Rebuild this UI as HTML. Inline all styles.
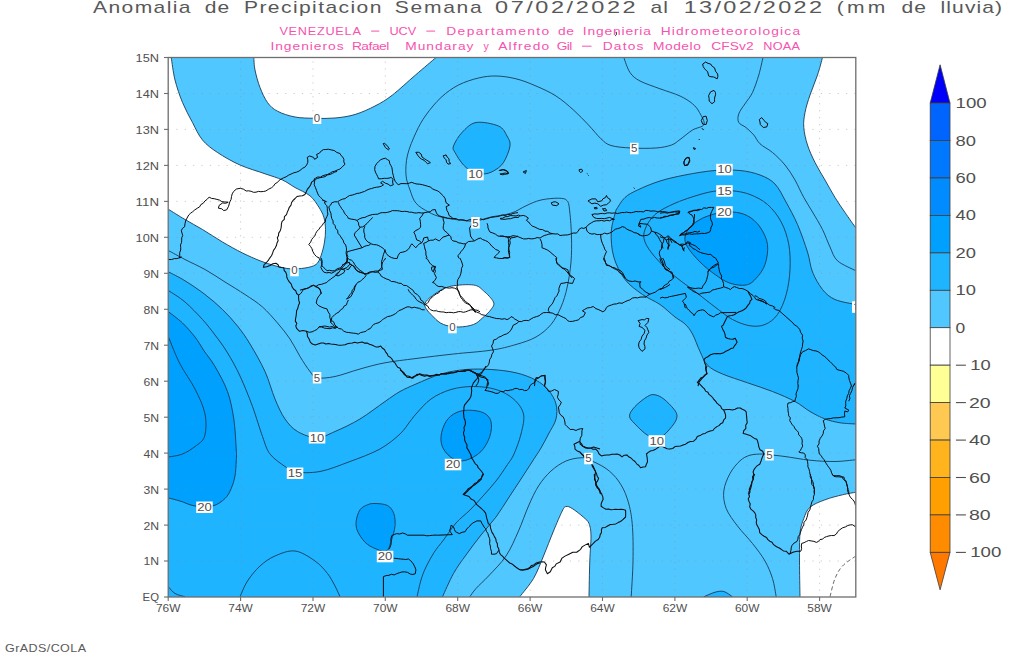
<!DOCTYPE html>
<html><head><meta charset="utf-8"><title>Anomalia de Precipitacion</title>
<style>
html,body{margin:0;padding:0;background:#fff;}
body{width:1024px;height:655px;overflow:hidden;font-family:"Liberation Sans",sans-serif;}
svg{display:block;}
text{font-family:"Liberation Sans",sans-serif;}
</style></head><body>
<svg width="1024" height="655" viewBox="0 0 1024 655">
<rect width="1024" height="655" fill="#fff"/>
<defs><clipPath id="pc"><rect x="168.2" y="57.5" width="687.6" height="539.5"/></clipPath></defs>
<g clip-path="url(#pc)">
<rect x="168.2" y="57.5" width="687.6" height="539.5" fill="#50c8ff"/>
<path d="M253.75,55.0 L253.75,57.5 C254.0,59.6 254.0,65.0 255.0,70.0 C256.0,75.0 257.9,82.1 260.0,87.5 C262.1,92.9 264.6,98.5 267.5,102.5 C270.4,106.5 272.9,108.8 277.5,111.2 C282.1,113.7 288.8,115.8 295.0,117.0 C301.2,118.2 308.3,118.1 315.0,118.3 C321.7,118.5 328.3,118.6 335.0,118.0 C341.7,117.4 348.3,116.5 355.0,114.5 C361.7,112.5 368.8,109.2 375.0,106.0 C381.2,102.8 385.8,100.2 392.5,95.0 C399.2,89.8 408.2,81.2 415.5,75.0 C422.8,68.8 432.6,60.4 436.0,57.5 L436,55.0Z" fill="#fff"/>
<path d="M166.0,55.0 L171.25,55.0 L171.25,57.5 C171.9,61.2 173.1,72.5 175.0,80.0 C176.9,87.5 179.6,95.4 182.5,102.5 C185.4,109.6 189.2,116.2 192.5,122.5 C195.8,128.8 198.3,135.0 202.5,140.0 C206.7,145.0 211.2,148.3 217.5,152.5 C223.8,156.7 232.1,161.5 240.0,165.0 C247.9,168.5 257.9,171.2 265.0,173.8 C272.1,176.2 277.5,177.7 282.5,180.0 C287.5,182.3 290.4,184.9 295.0,187.5 C299.6,190.1 306.0,192.5 310.0,195.8 C314.0,199.0 316.5,203.5 318.8,207.0 C321.0,210.5 322.6,213.2 323.8,217.0 C324.9,220.8 325.4,225.3 325.5,229.5 C325.6,233.7 325.2,237.6 324.5,242.0 C323.8,246.4 322.4,252.0 321.0,255.8 C319.6,259.5 318.7,262.5 316.0,264.5 C313.3,266.5 309.3,267.3 305.0,268.0 C300.7,268.7 295.0,269.1 290.0,268.8 C285.0,268.4 280.0,267.1 275.0,265.8 C270.0,264.4 265.4,262.9 260.0,260.8 C254.6,258.6 248.8,256.1 242.5,253.0 C236.2,249.9 229.2,245.9 222.5,242.0 C215.8,238.1 208.8,233.2 202.5,229.5 C196.2,225.8 190.6,222.8 185.0,219.5 C179.4,216.2 171.5,211.2 168.8,209.5 L166.0,208.5Z" fill="#fff"/>
<path d="M424.8,304.5 C425.2,300.5 431.6,296.3 436.0,293.2 C440.4,290.2 444.8,287.6 451.0,286.2 C457.2,284.9 468.1,284.2 473.5,285.0 C478.9,285.8 480.2,287.9 483.5,290.8 C486.8,293.6 492.2,298.9 493.5,302.0 C494.8,305.1 492.9,306.8 491.0,309.5 C489.1,312.2 485.2,315.8 482.2,318.2 C479.3,320.8 477.5,323.0 473.5,324.5 C469.5,326.0 463.5,327.0 458.5,327.0 C453.5,327.0 447.7,326.2 443.5,324.5 C439.3,322.8 436.6,320.3 433.5,317.0 C430.4,313.7 424.3,308.5 424.8,304.5Z" fill="#fff"/>
<path d="M517.75,599.0 L519.75,596.75 C522.0,593.7 529.5,585.3 533.5,578.5 C537.5,571.7 540.2,563.9 543.5,556.0 C546.8,548.1 550.4,538.5 553.5,531.0 C556.6,523.5 560.2,515.1 562.2,511.0 C564.3,506.9 564.3,506.9 566.0,506.5 C567.7,506.1 569.3,506.7 572.2,508.5 C575.2,510.3 580.7,514.8 583.5,517.2 C586.3,519.8 587.8,520.4 589.0,523.5 C590.2,526.6 590.9,529.8 591.0,536.0 C591.1,542.2 590.1,550.9 589.8,561.0 C589.4,571.1 589.1,590.8 589.0,596.8 L589,599.0Z" fill="#fff"/>
<path d="M823.5,55.0 L822.5,57.5 C821.7,60.4 819.6,68.8 817.5,75.0 C815.4,81.2 812.1,88.8 810.0,95.0 C807.9,101.2 806.0,107.1 805.0,112.5 C804.0,117.9 803.3,122.1 803.8,127.5 C804.2,132.9 805.6,139.2 807.5,145.0 C809.4,150.8 812.1,156.7 815.0,162.5 C817.9,168.3 821.7,174.2 825.0,180.0 C828.3,185.8 831.7,192.1 835.0,197.5 C838.3,202.9 841.5,207.4 845.0,212.5 C848.5,217.6 854.0,225.4 855.8,228.0 L858.0,230 L858.0,55.0Z" fill="#fff"/>
<path d="M800,599.0 L800,596.75 C799.9,590.8 799.5,571.5 799.5,561.0 C799.5,550.5 799.3,540.6 800.0,533.5 C800.7,526.4 802.1,522.9 803.8,518.5 C805.4,514.1 806.5,510.4 810.0,507.2 C813.5,504.1 819.6,501.8 825.0,499.8 C830.4,497.7 837.4,496.0 842.5,494.8 C847.6,493.5 853.6,492.7 855.8,492.2 L858.0,492.25 L858.0,599.0Z" fill="#fff"/>
<path d="M166.0,271 L168.75,272 C171.5,273.5 179.0,277.0 185.0,280.8 C191.0,284.5 198.8,289.7 205.0,294.5 C211.2,299.3 217.1,304.2 222.5,309.5 C227.9,314.8 232.9,320.2 237.5,326.0 C242.1,331.8 245.4,336.4 250.0,344.0 C254.6,351.6 260.8,362.3 265.0,371.5 C269.2,380.7 271.7,391.1 275.0,399.0 C278.3,406.9 281.2,413.6 285.0,419.0 C288.8,424.4 292.2,428.4 297.5,431.5 C302.8,434.6 310.8,437.8 317.0,437.8 C323.2,437.8 327.8,434.6 335.0,431.5 C342.2,428.4 351.7,424.0 360.0,419.0 C368.3,414.0 378.3,406.1 385.0,401.5 C391.7,396.9 394.8,394.4 400.0,391.5 C405.2,388.6 409.2,386.9 416.0,384.0 C422.8,381.1 432.7,376.4 441.0,374.0 C449.3,371.6 457.7,370.2 466.0,369.5 C474.3,368.8 482.7,369.0 491.0,369.5 C499.3,370.0 508.5,371.0 516.0,372.8 C523.5,374.5 530.6,377.3 536.0,380.2 C541.4,383.2 545.2,386.3 548.5,390.2 C551.8,394.2 554.8,399.2 556.0,404.0 C557.2,408.8 557.2,414.0 556.0,419.0 C554.8,424.0 551.0,429.2 548.5,434.0 C546.0,438.8 543.8,443.3 541.0,448.0 C538.2,452.7 535.3,456.8 532.0,462.0 C528.7,467.2 524.9,473.0 521.0,479.0 C517.1,485.0 512.7,491.7 508.5,498.0 C504.3,504.3 500.6,510.8 496.0,517.0 C491.4,523.2 486.0,528.7 481.0,535.0 C476.0,541.3 470.6,548.6 466.0,555.0 C461.4,561.4 457.4,566.5 453.5,573.5 C449.6,580.5 444.3,592.9 442.5,596.8 L441.5,599.0 L166.0,599.0Z" fill="#1eb4ff"/>
<path d="M476.0,122.5 C482.1,121.4 493.3,123.8 498.5,126.0 C503.7,128.2 505.1,132.7 507.0,136.0 C508.9,139.3 510.6,141.6 510.0,146.0 C509.4,150.4 506.2,158.3 503.5,162.5 C500.8,166.7 496.8,169.1 493.5,171.0 C490.2,172.9 486.9,173.8 483.5,174.0 C480.1,174.2 476.3,173.5 473.0,172.0 C469.7,170.5 466.5,168.2 463.5,165.0 C460.5,161.8 456.7,155.7 455.0,152.5 C453.3,149.3 452.3,149.3 453.5,146.0 C454.7,142.7 458.2,136.4 462.0,132.5 C465.8,128.6 469.9,123.6 476.0,122.5Z" fill="#1eb4ff"/>
<path d="M616,210 C617.5,207.9 621.4,200.8 625.0,197.5 C628.6,194.2 631.7,192.8 637.5,190.0 C643.3,187.2 652.1,183.5 660.0,181.0 C667.9,178.5 675.8,176.8 685.0,175.0 C694.2,173.2 705.8,171.2 715.0,170.5 C724.2,169.8 732.5,169.8 740.0,170.5 C747.5,171.2 754.2,172.8 760.0,175.0 C765.8,177.2 770.7,179.5 775.0,184.0 C779.3,188.5 782.2,195.2 786.0,202.0 C789.8,208.8 793.9,216.2 797.5,224.5 C801.1,232.8 805.0,244.1 807.5,252.0 C810.0,259.9 810.0,265.8 812.5,272.0 C815.0,278.2 818.8,284.9 822.5,289.5 C826.2,294.1 829.5,297.0 835.0,299.5 C840.5,302.0 852.3,303.7 855.8,304.5 L858.0,305.0 L858.0,424 L855.8,424 C853.2,423.8 845.1,423.6 840.0,422.8 C834.9,421.9 830.0,420.9 825.0,419.0 C820.0,417.1 815.0,414.4 810.0,411.5 C805.0,408.6 801.2,404.8 795.0,401.5 C788.8,398.2 780.4,394.6 772.5,391.5 C764.6,388.4 755.8,385.7 747.5,382.8 C739.2,379.8 729.2,376.9 722.5,374.0 C715.8,371.1 711.2,369.0 707.5,365.2 C703.8,361.5 702.5,356.7 700.0,351.5 C697.5,346.3 695.0,338.6 692.5,334.0 C690.0,329.4 687.9,326.8 685.0,324.0 C682.1,321.2 679.2,320.2 675.0,317.0 C670.8,313.8 665.4,308.2 660.0,304.5 C654.6,300.8 648.3,298.7 642.5,294.5 C636.7,290.3 629.8,285.8 625.0,279.5 C620.2,273.2 616.0,264.9 613.8,257.0 C611.5,249.1 610.9,239.8 611.2,232.0 C611.6,224.2 615.2,213.7 616.0,210.0Z" fill="#1eb4ff"/>
<path d="M655.0,394.8 C657.7,395.2 660.6,396.6 663.8,399.0 C666.9,401.4 671.5,406.2 673.8,409.0 C676.0,411.8 677.0,413.5 677.0,416.0 C677.0,418.5 676.0,420.8 673.8,424.0 C671.5,427.2 666.5,433.0 663.8,435.2 C661.0,437.5 659.7,437.5 657.0,437.5 C654.3,437.5 651.2,437.5 647.5,435.2 C643.8,433.0 638.0,427.2 635.0,424.0 C632.0,420.8 629.5,418.9 629.5,416.0 C629.5,413.1 632.0,409.8 635.0,406.5 C638.0,403.2 644.2,398.5 647.5,396.5 C650.8,394.5 652.3,394.3 655.0,394.8Z" fill="#1eb4ff"/>
<path d="M701.75,599.0 L703.75,596.75 C705.6,596.0 711.7,593.1 715.0,592.2 C718.3,591.4 720.8,590.8 723.8,591.5 C726.7,592.2 731.0,595.9 732.5,596.8 L734.5,599.0Z" fill="#1eb4ff"/>
<path d="M166.0,311 L168.75,312 C171.0,313.8 178.1,318.8 182.5,323.0 C186.9,327.2 191.4,332.4 195.0,337.0 C198.6,341.6 200.7,345.8 204.0,350.8 C207.3,355.7 211.1,359.7 215.0,366.5 C218.9,373.3 224.4,382.8 227.5,391.5 C230.6,400.2 232.3,409.4 233.8,419.0 C235.2,428.6 235.8,442.0 236.2,449.0 C236.7,456.0 236.5,456.5 236.2,461.0 C236.0,465.5 235.8,471.4 235.0,476.0 C234.2,480.6 232.9,484.8 231.2,488.5 C229.6,492.2 228.1,495.6 225.0,498.5 C221.9,501.4 217.5,504.8 212.5,506.0 C207.5,507.2 200.4,506.8 195.0,506.0 C189.6,505.2 184.4,502.3 180.0,501.0 C175.6,499.7 170.6,498.5 168.8,498.0 L166.0,498Z" fill="#00a0ff"/>
<path d="M468.5,410.2 C473.1,410.2 479.8,410.9 483.5,412.8 C487.2,414.6 490.0,417.5 491.0,421.5 C492.0,425.5 491.4,431.5 489.8,436.5 C488.1,441.5 485.0,447.5 481.0,451.5 C477.0,455.5 470.6,459.0 466.0,460.2 C461.4,461.5 457.2,460.9 453.5,459.0 C449.8,457.1 445.6,452.8 443.5,449.0 C441.4,445.2 440.6,441.1 441.0,436.5 C441.4,431.9 443.5,425.5 446.0,421.5 C448.5,417.5 452.2,414.6 456.0,412.8 C459.8,410.9 463.9,410.2 468.5,410.2Z" fill="#00a0ff"/>
<path d="M375.0,503.5 C378.3,503.6 384.4,503.8 387.5,505.5 C390.6,507.2 392.5,510.1 393.8,513.5 C395.0,516.9 395.4,521.4 395.0,526.0 C394.6,530.6 392.7,536.8 391.2,541.0 C389.8,545.2 389.0,549.8 386.2,551.0 C383.5,552.2 378.5,550.0 375.0,548.5 C371.5,547.0 367.9,545.2 365.0,542.2 C362.1,539.3 359.0,534.5 357.5,531.0 C356.0,527.5 355.8,524.5 356.2,521.0 C356.7,517.5 358.1,512.5 360.0,509.8 C361.9,507.0 365.0,505.8 367.5,504.8 C370.0,503.7 371.7,503.4 375.0,503.5Z" fill="#00a0ff"/>
<path d="M732.5,212.0 C737.5,212.4 742.9,213.2 747.5,215.8 C752.1,218.2 756.7,222.2 760.0,227.0 C763.3,231.8 766.7,238.2 767.5,244.5 C768.3,250.8 766.9,258.9 765.0,264.5 C763.1,270.1 759.4,274.8 756.2,278.2 C753.1,281.7 750.6,284.2 746.2,285.0 C741.9,285.8 735.2,285.0 730.0,283.2 C724.8,281.5 720.0,278.0 715.0,274.5 C710.0,271.0 704.6,266.6 700.0,262.0 C695.4,257.4 690.0,251.2 687.5,247.0 C685.0,242.8 684.6,240.3 685.0,237.0 C685.4,233.7 687.1,230.1 690.0,227.0 C692.9,223.9 697.9,220.5 702.5,218.2 C707.1,216.0 712.5,214.3 717.5,213.2 C722.5,212.2 727.5,211.6 732.5,212.0Z" fill="#00a0ff"/>
<g fill="none" stroke="#1a3a55" stroke-width="0.9">
<path d="M253.8,57.5 C254.0,59.6 254.0,65.0 255.0,70.0 C256.0,75.0 257.9,82.1 260.0,87.5 C262.1,92.9 264.6,98.5 267.5,102.5 C270.4,106.5 272.9,108.8 277.5,111.2 C282.1,113.7 288.8,115.8 295.0,117.0 C301.2,118.2 308.3,118.1 315.0,118.3 C321.7,118.5 328.3,118.6 335.0,118.0 C341.7,117.4 348.3,116.5 355.0,114.5 C361.7,112.5 368.8,109.2 375.0,106.0 C381.2,102.8 385.8,100.2 392.5,95.0 C399.2,89.8 408.2,81.2 415.5,75.0 C422.8,68.8 432.6,60.4 436.0,57.5"/>
<path d="M171.2,57.5 C171.9,61.2 173.1,72.5 175.0,80.0 C176.9,87.5 179.6,95.4 182.5,102.5 C185.4,109.6 189.2,116.2 192.5,122.5 C195.8,128.8 198.3,135.0 202.5,140.0 C206.7,145.0 211.2,148.3 217.5,152.5 C223.8,156.7 232.1,161.5 240.0,165.0 C247.9,168.5 257.9,171.2 265.0,173.8 C272.1,176.2 277.5,177.7 282.5,180.0 C287.5,182.3 290.4,184.9 295.0,187.5 C299.6,190.1 306.0,192.5 310.0,195.8 C314.0,199.0 316.5,203.5 318.8,207.0 C321.0,210.5 322.6,213.2 323.8,217.0 C324.9,220.8 325.4,225.3 325.5,229.5 C325.6,233.7 325.2,237.6 324.5,242.0 C323.8,246.4 322.4,252.0 321.0,255.8 C319.6,259.5 318.7,262.5 316.0,264.5 C313.3,266.5 309.3,267.3 305.0,268.0 C300.7,268.7 295.0,269.1 290.0,268.8 C285.0,268.4 280.0,267.1 275.0,265.8 C270.0,264.4 265.4,262.9 260.0,260.8 C254.6,258.6 248.8,256.1 242.5,253.0 C236.2,249.9 229.2,245.9 222.5,242.0 C215.8,238.1 208.8,233.2 202.5,229.5 C196.2,225.8 190.6,222.8 185.0,219.5 C179.4,216.2 171.5,211.2 168.8,209.5"/>
<path d="M519.8,596.8 C522.0,593.7 529.5,585.3 533.5,578.5 C537.5,571.7 540.2,563.9 543.5,556.0 C546.8,548.1 550.4,538.5 553.5,531.0 C556.6,523.5 560.2,515.1 562.2,511.0 C564.3,506.9 564.3,506.9 566.0,506.5 C567.7,506.1 569.3,506.7 572.2,508.5 C575.2,510.3 580.7,514.8 583.5,517.2 C586.3,519.8 587.8,520.4 589.0,523.5 C590.2,526.6 590.9,529.8 591.0,536.0 C591.1,542.2 590.1,550.9 589.8,561.0 C589.4,571.1 589.1,590.8 589.0,596.8"/>
<path d="M822.5,57.5 C821.7,60.4 819.6,68.8 817.5,75.0 C815.4,81.2 812.1,88.8 810.0,95.0 C807.9,101.2 806.0,107.1 805.0,112.5 C804.0,117.9 803.3,122.1 803.8,127.5 C804.2,132.9 805.6,139.2 807.5,145.0 C809.4,150.8 812.1,156.7 815.0,162.5 C817.9,168.3 821.7,174.2 825.0,180.0 C828.3,185.8 831.7,192.1 835.0,197.5 C838.3,202.9 841.5,207.4 845.0,212.5 C848.5,217.6 854.0,225.4 855.8,228.0"/>
<path d="M800.0,596.8 C799.9,590.8 799.5,571.5 799.5,561.0 C799.5,550.5 799.3,540.6 800.0,533.5 C800.7,526.4 802.1,522.9 803.8,518.5 C805.4,514.1 806.5,510.4 810.0,507.2 C813.5,504.1 819.6,501.8 825.0,499.8 C830.4,497.7 837.4,496.0 842.5,494.8 C847.6,493.5 853.6,492.7 855.8,492.2"/>
<path d="M168.8,272.0 C171.5,273.5 179.0,277.0 185.0,280.8 C191.0,284.5 198.8,289.7 205.0,294.5 C211.2,299.3 217.1,304.2 222.5,309.5 C227.9,314.8 232.9,320.2 237.5,326.0 C242.1,331.8 245.4,336.4 250.0,344.0 C254.6,351.6 260.8,362.3 265.0,371.5 C269.2,380.7 271.7,391.1 275.0,399.0 C278.3,406.9 281.2,413.6 285.0,419.0 C288.8,424.4 292.2,428.4 297.5,431.5 C302.8,434.6 310.8,437.8 317.0,437.8 C323.2,437.8 327.8,434.6 335.0,431.5 C342.2,428.4 351.7,424.0 360.0,419.0 C368.3,414.0 378.3,406.1 385.0,401.5 C391.7,396.9 394.8,394.4 400.0,391.5 C405.2,388.6 409.2,386.9 416.0,384.0 C422.8,381.1 432.7,376.4 441.0,374.0 C449.3,371.6 457.7,370.2 466.0,369.5 C474.3,368.8 482.7,369.0 491.0,369.5 C499.3,370.0 508.5,371.0 516.0,372.8 C523.5,374.5 530.6,377.3 536.0,380.2 C541.4,383.2 545.2,386.3 548.5,390.2 C551.8,394.2 554.8,399.2 556.0,404.0 C557.2,408.8 557.2,414.0 556.0,419.0 C554.8,424.0 551.0,429.2 548.5,434.0 C546.0,438.8 543.8,443.3 541.0,448.0 C538.2,452.7 535.3,456.8 532.0,462.0 C528.7,467.2 524.9,473.0 521.0,479.0 C517.1,485.0 512.7,491.7 508.5,498.0 C504.3,504.3 500.6,510.8 496.0,517.0 C491.4,523.2 486.0,528.7 481.0,535.0 C476.0,541.3 470.6,548.6 466.0,555.0 C461.4,561.4 457.4,566.5 453.5,573.5 C449.6,580.5 444.3,592.9 442.5,596.8"/>
<path d="M616.0,210.0 C617.5,207.9 621.4,200.8 625.0,197.5 C628.6,194.2 631.7,192.8 637.5,190.0 C643.3,187.2 652.1,183.5 660.0,181.0 C667.9,178.5 675.8,176.8 685.0,175.0 C694.2,173.2 705.8,171.2 715.0,170.5 C724.2,169.8 732.5,169.8 740.0,170.5 C747.5,171.2 754.2,172.8 760.0,175.0 C765.8,177.2 770.7,179.5 775.0,184.0 C779.3,188.5 782.2,195.2 786.0,202.0 C789.8,208.8 793.9,216.2 797.5,224.5 C801.1,232.8 805.0,244.1 807.5,252.0 C810.0,259.9 810.0,265.8 812.5,272.0 C815.0,278.2 818.8,284.9 822.5,289.5 C826.2,294.1 829.5,297.0 835.0,299.5 C840.5,302.0 852.3,303.7 855.8,304.5"/>
<path d="M855.8,424.0 C853.2,423.8 845.1,423.6 840.0,422.8 C834.9,421.9 830.0,420.9 825.0,419.0 C820.0,417.1 815.0,414.4 810.0,411.5 C805.0,408.6 801.2,404.8 795.0,401.5 C788.8,398.2 780.4,394.6 772.5,391.5 C764.6,388.4 755.8,385.7 747.5,382.8 C739.2,379.8 729.2,376.9 722.5,374.0 C715.8,371.1 711.2,369.0 707.5,365.2 C703.8,361.5 702.5,356.7 700.0,351.5 C697.5,346.3 695.0,338.6 692.5,334.0 C690.0,329.4 687.9,326.8 685.0,324.0 C682.1,321.2 679.2,320.2 675.0,317.0 C670.8,313.8 665.4,308.2 660.0,304.5 C654.6,300.8 648.3,298.7 642.5,294.5 C636.7,290.3 629.8,285.8 625.0,279.5 C620.2,273.2 616.0,264.9 613.8,257.0 C611.5,249.1 610.9,239.8 611.2,232.0 C611.6,224.2 615.2,213.7 616.0,210.0"/>
<path d="M703.8,596.8 C705.6,596.0 711.7,593.1 715.0,592.2 C718.3,591.4 720.8,590.8 723.8,591.5 C726.7,592.2 731.0,595.9 732.5,596.8"/>
<path d="M168.8,312.0 C171.0,313.8 178.1,318.8 182.5,323.0 C186.9,327.2 191.4,332.4 195.0,337.0 C198.6,341.6 200.7,345.8 204.0,350.8 C207.3,355.7 211.1,359.7 215.0,366.5 C218.9,373.3 224.4,382.8 227.5,391.5 C230.6,400.2 232.3,409.4 233.8,419.0 C235.2,428.6 235.8,442.0 236.2,449.0 C236.7,456.0 236.5,456.5 236.2,461.0 C236.0,465.5 235.8,471.4 235.0,476.0 C234.2,480.6 232.9,484.8 231.2,488.5 C229.6,492.2 228.1,495.6 225.0,498.5 C221.9,501.4 217.5,504.8 212.5,506.0 C207.5,507.2 200.4,506.8 195.0,506.0 C189.6,505.2 184.4,502.3 180.0,501.0 C175.6,499.7 170.6,498.5 168.8,498.0"/>
<path d="M424.8,304.5 C425.2,300.5 431.6,296.3 436.0,293.2 C440.4,290.2 444.8,287.6 451.0,286.2 C457.2,284.9 468.1,284.2 473.5,285.0 C478.9,285.8 480.2,287.9 483.5,290.8 C486.8,293.6 492.2,298.9 493.5,302.0 C494.8,305.1 492.9,306.8 491.0,309.5 C489.1,312.2 485.2,315.8 482.2,318.2 C479.3,320.8 477.5,323.0 473.5,324.5 C469.5,326.0 463.5,327.0 458.5,327.0 C453.5,327.0 447.7,326.2 443.5,324.5 C439.3,322.8 436.6,320.3 433.5,317.0 C430.4,313.7 424.3,308.5 424.8,304.5Z"/>
<path d="M476.0,122.5 C482.1,121.4 493.3,123.8 498.5,126.0 C503.7,128.2 505.1,132.7 507.0,136.0 C508.9,139.3 510.6,141.6 510.0,146.0 C509.4,150.4 506.2,158.3 503.5,162.5 C500.8,166.7 496.8,169.1 493.5,171.0 C490.2,172.9 486.9,173.8 483.5,174.0 C480.1,174.2 476.3,173.5 473.0,172.0 C469.7,170.5 466.5,168.2 463.5,165.0 C460.5,161.8 456.7,155.7 455.0,152.5 C453.3,149.3 452.3,149.3 453.5,146.0 C454.7,142.7 458.2,136.4 462.0,132.5 C465.8,128.6 469.9,123.6 476.0,122.5Z"/>
<path d="M655.0,394.8 C657.7,395.2 660.6,396.6 663.8,399.0 C666.9,401.4 671.5,406.2 673.8,409.0 C676.0,411.8 677.0,413.5 677.0,416.0 C677.0,418.5 676.0,420.8 673.8,424.0 C671.5,427.2 666.5,433.0 663.8,435.2 C661.0,437.5 659.7,437.5 657.0,437.5 C654.3,437.5 651.2,437.5 647.5,435.2 C643.8,433.0 638.0,427.2 635.0,424.0 C632.0,420.8 629.5,418.9 629.5,416.0 C629.5,413.1 632.0,409.8 635.0,406.5 C638.0,403.2 644.2,398.5 647.5,396.5 C650.8,394.5 652.3,394.3 655.0,394.8Z"/>
<path d="M468.5,410.2 C473.1,410.2 479.8,410.9 483.5,412.8 C487.2,414.6 490.0,417.5 491.0,421.5 C492.0,425.5 491.4,431.5 489.8,436.5 C488.1,441.5 485.0,447.5 481.0,451.5 C477.0,455.5 470.6,459.0 466.0,460.2 C461.4,461.5 457.2,460.9 453.5,459.0 C449.8,457.1 445.6,452.8 443.5,449.0 C441.4,445.2 440.6,441.1 441.0,436.5 C441.4,431.9 443.5,425.5 446.0,421.5 C448.5,417.5 452.2,414.6 456.0,412.8 C459.8,410.9 463.9,410.2 468.5,410.2Z"/>
<path d="M375.0,503.5 C378.3,503.6 384.4,503.8 387.5,505.5 C390.6,507.2 392.5,510.1 393.8,513.5 C395.0,516.9 395.4,521.4 395.0,526.0 C394.6,530.6 392.7,536.8 391.2,541.0 C389.8,545.2 389.0,549.8 386.2,551.0 C383.5,552.2 378.5,550.0 375.0,548.5 C371.5,547.0 367.9,545.2 365.0,542.2 C362.1,539.3 359.0,534.5 357.5,531.0 C356.0,527.5 355.8,524.5 356.2,521.0 C356.7,517.5 358.1,512.5 360.0,509.8 C361.9,507.0 365.0,505.8 367.5,504.8 C370.0,503.7 371.7,503.4 375.0,503.5Z"/>
<path d="M732.5,212.0 C737.5,212.4 742.9,213.2 747.5,215.8 C752.1,218.2 756.7,222.2 760.0,227.0 C763.3,231.8 766.7,238.2 767.5,244.5 C768.3,250.8 766.9,258.9 765.0,264.5 C763.1,270.1 759.4,274.8 756.2,278.2 C753.1,281.7 750.6,284.2 746.2,285.0 C741.9,285.8 735.2,285.0 730.0,283.2 C724.8,281.5 720.0,278.0 715.0,274.5 C710.0,271.0 704.6,266.6 700.0,262.0 C695.4,257.4 690.0,251.2 687.5,247.0 C685.0,242.8 684.6,240.3 685.0,237.0 C685.4,233.7 687.1,230.1 690.0,227.0 C692.9,223.9 697.9,220.5 702.5,218.2 C707.1,216.0 712.5,214.3 717.5,213.2 C722.5,212.2 727.5,211.6 732.5,212.0Z"/>
<path d="M168.8,250.8 C171.5,252.2 179.0,256.4 185.0,259.5 C191.0,262.6 198.3,265.8 205.0,269.5 C211.7,273.2 218.3,277.8 225.0,282.0 C231.7,286.2 238.8,290.3 245.0,294.5 C251.2,298.7 257.1,302.2 262.5,307.0 C267.9,311.8 272.9,317.7 277.5,323.0 C282.1,328.3 286.2,333.4 290.0,339.0 C293.8,344.6 296.7,351.1 300.0,356.5 C303.3,361.9 307.2,368.0 310.0,371.5 C312.8,375.0 312.8,376.9 317.0,377.8 C321.2,378.6 327.8,378.0 335.0,376.5 C342.2,375.0 351.7,371.3 360.0,369.0 C368.3,366.7 375.7,364.5 385.0,362.8 C394.3,361.0 404.6,360.0 416.0,358.5 C427.4,357.0 441.0,355.4 453.5,354.0 C466.0,352.6 480.6,351.8 491.0,350.2 C501.4,348.7 508.5,346.7 516.0,344.5 C523.5,342.3 530.2,340.3 536.0,337.0 C541.8,333.7 546.8,329.5 551.0,324.5 C555.2,319.5 558.3,313.2 561.0,307.0 C563.7,300.8 565.6,294.5 567.2,287.0 C568.9,279.5 570.3,270.3 571.0,262.0 C571.7,253.7 571.7,245.3 571.5,237.0 C571.3,228.7 570.5,218.0 569.8,212.0 C569.0,206.0 569.1,203.0 567.2,200.8 C565.4,198.5 562.9,198.4 558.5,198.2 C554.1,198.1 546.4,198.8 541.0,200.0 C535.6,201.2 531.0,203.5 526.0,205.8 C521.0,208.0 516.8,211.4 511.0,213.2 C505.2,215.1 496.9,215.7 491.0,217.0 C485.1,218.3 480.5,220.5 475.5,221.0 C470.5,221.5 466.8,220.9 461.0,220.2 C455.2,219.6 446.4,218.4 441.0,217.0 C435.6,215.6 432.7,214.3 428.5,212.0 C424.3,209.7 419.1,206.9 416.0,203.2 C412.9,199.6 411.7,194.7 410.0,190.0 C408.3,185.3 406.4,180.8 406.0,175.0 C405.6,169.2 405.8,162.1 407.5,155.0 C409.2,147.9 412.9,139.2 416.0,132.5 C419.1,125.8 421.8,120.8 426.0,115.0 C430.2,109.2 435.6,102.5 441.0,97.5 C446.4,92.5 452.2,88.2 458.5,85.0 C464.8,81.8 472.2,79.5 478.5,78.0 C484.8,76.5 489.8,75.9 496.0,76.0 C502.2,76.1 509.3,77.1 516.0,78.8 C522.7,80.4 529.3,83.1 536.0,86.0 C542.7,88.9 549.8,92.0 556.0,96.0 C562.2,100.0 568.1,105.2 573.5,110.0 C578.9,114.8 583.9,120.2 588.5,125.0 C593.1,129.8 597.2,135.3 601.0,138.8 C604.8,142.2 606.0,144.0 611.0,145.5 C616.0,147.0 623.5,147.6 631.0,148.0 C638.5,148.4 649.2,148.5 656.0,148.0 C662.8,147.5 667.5,146.4 671.5,145.0 C675.5,143.6 676.5,142.0 680.0,139.5 C683.5,137.0 688.5,132.5 692.5,130.0 C696.5,127.5 702.8,127.4 704.0,124.5 C705.2,121.6 701.4,116.0 699.5,112.5 C697.6,109.0 695.8,106.5 692.5,103.8 C689.2,101.0 685.4,98.5 680.0,96.0 C674.6,93.5 666.7,91.2 660.0,88.8 C653.3,86.2 645.0,83.7 640.0,81.0 C635.0,78.3 632.7,76.4 630.0,72.5 C627.3,68.6 624.8,60.0 623.8,57.5"/>
<path d="M763.0,57.5 C762.3,60.4 760.5,69.2 758.8,75.0 C757.0,80.8 754.8,87.7 752.5,92.5 C750.2,97.3 747.3,100.2 745.0,103.8 C742.7,107.3 739.8,110.6 738.8,113.8 C737.7,116.9 737.5,120.2 738.8,122.5 C740.0,124.8 743.5,125.4 746.0,127.5 C748.5,129.6 751.4,132.3 753.8,135.0 C756.1,137.7 756.9,140.8 760.0,143.8 C763.1,146.7 768.3,149.0 772.5,152.5 C776.7,156.0 781.2,160.4 785.0,165.0 C788.8,169.6 791.9,174.6 795.0,180.0 C798.1,185.4 800.8,192.2 803.8,197.5 C806.7,202.8 809.4,206.7 812.5,212.0 C815.6,217.3 819.6,223.7 822.5,229.5 C825.4,235.3 827.5,241.8 830.0,247.0 C832.5,252.2 833.2,256.8 837.5,260.8 C841.8,264.7 852.8,269.1 855.8,270.8"/>
<path d="M469.8,596.8 C470.8,595.4 472.9,592.0 476.0,588.5 C479.1,585.0 483.5,581.4 488.5,576.0 C493.5,570.6 501.0,563.5 506.0,556.0 C511.0,548.5 514.8,539.3 518.5,531.0 C522.2,522.7 525.2,513.5 528.5,506.0 C531.8,498.5 534.8,491.8 538.5,486.0 C542.2,480.2 546.4,475.2 551.0,471.0 C555.6,466.8 561.0,463.2 566.0,461.0 C571.0,458.8 577.2,458.0 581.0,457.8 C584.8,457.5 584.3,457.7 588.5,459.5 C592.7,461.3 601.0,464.9 606.0,468.5 C611.0,472.1 615.0,476.0 618.5,481.0 C622.0,486.0 625.0,491.4 627.2,498.5 C629.5,505.6 631.3,513.1 632.2,523.5 C633.2,533.9 633.2,548.8 633.0,561.0 C632.8,573.2 631.5,590.8 631.2,596.8"/>
<path d="M776.2,596.8 C775.6,593.7 774.4,584.5 772.5,578.5 C770.6,572.5 768.3,566.8 765.0,561.0 C761.7,555.2 757.1,549.3 752.5,543.5 C747.9,537.7 741.9,531.8 737.5,526.0 C733.1,520.2 728.5,514.3 726.2,508.5 C724.0,502.7 723.1,496.8 723.8,491.0 C724.4,485.2 727.3,478.5 730.0,473.5 C732.7,468.5 736.7,463.8 740.0,460.8 C743.3,457.7 746.2,456.4 750.0,455.2 C753.8,454.1 759.2,454.1 762.5,454.0 C765.8,453.9 765.8,454.3 769.5,454.8 C773.2,455.2 778.2,455.6 785.0,456.5 C791.8,457.4 801.7,459.4 810.0,460.2 C818.3,461.1 827.4,461.6 835.0,461.5 C842.6,461.4 852.3,460.0 855.8,459.8"/>
<path d="M168.8,290.8 C171.5,292.6 179.4,297.2 185.0,302.0 C190.6,306.8 197.5,314.0 202.5,319.5 C207.5,325.0 210.9,329.6 215.0,335.0 C219.1,340.4 222.8,345.2 227.0,352.0 C231.2,358.8 235.8,366.9 240.0,376.0 C244.2,385.1 248.8,396.4 252.5,406.5 C256.2,416.6 259.6,428.6 262.5,436.5 C265.4,444.4 266.2,449.0 270.0,454.0 C273.8,459.0 280.8,463.5 285.0,466.5 C289.2,469.5 289.2,471.2 295.0,472.0 C300.8,472.8 310.8,473.2 320.0,471.5 C329.2,469.8 340.0,465.2 350.0,461.5 C360.0,457.8 371.7,453.6 380.0,449.0 C388.3,444.4 395.0,438.6 400.0,434.0 C405.0,429.4 407.3,424.8 410.0,421.5 C412.7,418.2 412.5,417.8 416.0,414.0 C419.5,410.2 425.2,403.1 431.0,399.0 C436.8,394.9 443.9,391.6 451.0,389.5 C458.1,387.4 466.0,386.5 473.5,386.5 C481.0,386.5 489.3,387.4 496.0,389.5 C502.7,391.6 508.9,394.9 513.5,399.0 C518.1,403.1 522.2,408.2 523.5,414.0 C524.8,419.8 522.6,427.3 521.0,434.0 C519.4,440.7 516.2,448.9 514.0,454.0 C511.8,459.1 510.5,460.0 507.5,464.5 C504.5,469.0 500.1,475.8 496.0,481.0 C491.9,486.2 487.3,491.2 483.0,496.0 C478.7,500.8 474.5,505.5 470.0,510.0 C465.5,514.5 460.4,518.0 456.0,523.0 C451.6,528.0 447.2,535.1 443.5,540.0 C439.8,544.9 436.9,548.0 434.0,552.5 C431.1,557.0 428.2,562.4 426.0,567.0 C423.8,571.6 422.5,575.0 421.0,580.0 C419.5,585.0 417.7,594.0 417.0,596.8"/>
<path d="M240.0,596.8 C241.2,594.1 244.2,586.1 247.5,581.0 C250.8,575.9 255.4,570.2 260.0,566.0 C264.6,561.8 269.2,558.5 275.0,556.0 C280.8,553.5 288.3,550.2 295.0,551.0 C301.7,551.8 309.6,557.2 315.0,561.0 C320.4,564.8 324.2,569.3 327.5,573.5 C330.8,577.7 332.9,582.1 335.0,586.0 C337.1,589.9 339.2,595.0 340.0,596.8"/>
<path d="M168.8,337.8 C170.6,342.1 175.6,355.5 180.0,364.0 C184.4,372.5 190.8,380.7 195.0,389.0 C199.2,397.3 203.4,406.1 205.0,414.0 C206.6,421.9 206.2,431.1 204.5,436.5 C202.8,441.9 198.7,443.6 195.0,446.5 C191.3,449.4 186.9,452.2 182.5,454.0 C178.1,455.8 171.0,456.5 168.8,457.0"/>
<path d="M168.8,587.2 C169.8,588.3 172.3,591.9 175.0,593.5 C177.7,595.1 183.3,596.2 185.0,596.8"/>
<path d="M732.5,190.8 C737.9,191.4 744.2,192.2 750.0,194.5 C755.8,196.8 762.3,199.9 767.5,204.5 C772.7,209.1 777.7,215.3 781.2,222.0 C784.8,228.7 787.3,236.6 788.8,244.5 C790.2,252.4 790.4,261.2 790.0,269.5 C789.6,277.8 788.3,287.0 786.2,294.5 C784.2,302.0 781.0,309.5 777.5,314.5 C774.0,319.5 769.6,322.6 765.0,324.5 C760.4,326.4 755.4,326.6 750.0,325.8 C744.6,324.9 738.3,322.6 732.5,319.5 C726.7,316.4 721.7,312.0 715.0,307.0 C708.3,302.0 699.6,294.9 692.5,289.5 C685.4,284.1 678.8,279.9 672.5,274.5 C666.2,269.1 659.6,262.4 655.0,257.0 C650.4,251.6 646.7,246.6 645.0,242.0 C643.3,237.4 643.3,234.1 645.0,229.5 C646.7,224.9 650.0,218.9 655.0,214.5 C660.0,210.1 667.5,206.6 675.0,203.2 C682.5,199.9 692.9,196.6 700.0,194.5 C707.1,192.4 712.1,191.4 717.5,190.8 C722.9,190.1 727.1,190.1 732.5,190.8Z"/>
</g>
<path d="M855.8,556.0 C853.6,557.7 846.0,562.2 842.5,566.0 C839.0,569.8 837.1,573.4 835.0,578.5 C832.9,583.6 830.8,593.7 830.0,596.8" fill="none" stroke="#444" stroke-width="0.8" stroke-dasharray="4 2.6"/>
<g stroke="rgba(140,140,140,0.45)" stroke-width="1" fill="none">
<path d="M168.0,561.0 H855.8" stroke-dasharray="1.2 7.17"/>
<path d="M168.0,525.1 H855.8" stroke-dasharray="1.2 7.17"/>
<path d="M168.0,489.1 H855.8" stroke-dasharray="1.2 7.17"/>
<path d="M168.0,453.1 H855.8" stroke-dasharray="1.2 7.17"/>
<path d="M168.0,417.2 H855.8" stroke-dasharray="1.2 7.17"/>
<path d="M168.0,381.2 H855.8" stroke-dasharray="1.2 7.17"/>
<path d="M168.0,345.2 H855.8" stroke-dasharray="1.2 7.17"/>
<path d="M168.0,309.3 H855.8" stroke-dasharray="1.2 7.17"/>
<path d="M168.0,273.3 H855.8" stroke-dasharray="1.2 7.17"/>
<path d="M168.0,237.3 H855.8" stroke-dasharray="1.2 7.17"/>
<path d="M168.0,201.4 H855.8" stroke-dasharray="1.2 7.17"/>
<path d="M168.0,165.4 H855.8" stroke-dasharray="1.2 7.17"/>
<path d="M168.0,129.4 H855.8" stroke-dasharray="1.2 7.17"/>
<path d="M168.0,93.5 H855.8" stroke-dasharray="1.2 7.17"/>
<path d="M240.6,597.8 V57.5" stroke-dasharray="1.2 5.75"/>
<path d="M313.0,597.8 V57.5" stroke-dasharray="1.2 5.75"/>
<path d="M385.3,597.8 V57.5" stroke-dasharray="1.2 5.75"/>
<path d="M457.7,597.8 V57.5" stroke-dasharray="1.2 5.75"/>
<path d="M530.1,597.8 V57.5" stroke-dasharray="1.2 5.75"/>
<path d="M602.5,597.8 V57.5" stroke-dasharray="1.2 5.75"/>
<path d="M674.9,597.8 V57.5" stroke-dasharray="1.2 5.75"/>
<path d="M747.2,597.8 V57.5" stroke-dasharray="1.2 5.75"/>
<path d="M819.6,597.8 V57.5" stroke-dasharray="1.2 5.75"/>
</g>
<g fill="none" stroke="#0a0c10" stroke-width="1.0" stroke-linejoin="round">
<path d="M179.7,258.1 L179.7,255.3 L179.7,252.6 L180.7,250.0 L180.7,247.3 L180.5,244.9 L181.5,242.6 L181.7,240.2 L181.7,237.8 L182.7,235.6 L182.0,233.1 L181.3,230.7 L182.5,228.3 L184.6,226.8 L185.0,223.8 L185.6,220.9 L187.6,217.0 L188.8,214.9 L190.6,213.2 L192.6,211.8 L194.4,210.2 L197.3,208.2 L199.6,206.9 L200.9,204.5 L203.2,203.3 L204.9,201.0 L207.2,199.3 L209.1,197.1 L211.5,198.4 L214.2,198.7 L216.9,199.4 L219.5,200.1 L221.9,201.7 L224.7,201.9 L228.2,202.3 L225.6,203.3 L222.7,202.9 L219.2,205.3 L218.4,208.2 L221.8,208.8 L223.7,210.6 L226.7,209.8 L228.6,206.2 L229.8,201.9 L231.1,199.4 L231.5,196.5 L232.2,193.9 L233.5,191.6 L236.4,189.0 L240.3,188.3 L243.5,189.2 L246.2,191.0 L248.7,190.8 L251.1,191.3 L253.5,192.3 L256.0,192.2 L258.4,191.4 L260.9,191.7 L263.3,191.5 L265.8,191.0 L268.6,189.2 L271.6,187.7 L273.6,186.0 L275.1,183.7 L277.5,182.4 L279.1,180.4 L281.1,179.1 L283.4,177.9 L286.1,176.8 L288.5,175.2 L291.2,174.0 L293.7,172.8 L296.4,172.2 L299.0,171.1 L300.9,169.7 L302.7,168.2 L304.9,167.2 L306.7,164.9 L307.8,162.3 L307.8,159.8 L307.2,157.4 L309.7,156.0 L313.6,157.4 L314.6,159.3 L317.6,157.4 L316.6,154.4 L319.5,153.1 L321.2,151.0 L323.4,149.6 L325.9,149.5 L328.3,149.2 L331.2,149.9 L334.2,150.5 L336.9,152.5 L340.0,153.5 L341.1,155.6 L342.9,157.2 L343.9,159.3 L343.8,161.9 L344.9,164.2 L342.0,167.2 L339.8,169.1 L337.1,170.1 L334.9,171.2 L332.4,171.7 L330.3,173.0 L327.8,174.4 L325.1,175.0 L322.4,175.9 L320.4,177.2 L317.8,177.0 L315.6,177.9"/>
<path d="M337.1,171.4 L334.7,172.1 L332.5,173.3 L330.3,174.4 L327.5,174.9 L325.1,176.6 L322.4,177.3 L319.9,177.7 L317.5,178.5 L315.0,179.3 L314.5,182.0 L314.2,184.7 L315.5,187.7 L316.6,190.6 L317.5,193.1 L318.6,195.5 L320.5,197.4 L322.3,199.1 L324.0,200.8 L322.4,200.0 L326.4,201.6 L324.4,201.9 L325.2,204.1 L326.9,205.8 L327.3,208.2 L327.4,211.2 L327.9,214.1 L326.9,216.6 L325.6,219.1 L325.4,221.9 L323.4,223.2 L322.3,225.4 L320.5,226.8 L319.0,229.2 L317.0,231.2 L315.6,233.6 L314.9,235.9 L313.1,237.6 L311.7,239.5 L310.6,242.2 L308.8,244.4 L310.5,246.4 L311.9,248.6 L312.7,251.2 L314.3,254.2 L316.6,256.7 L319.5,258.1"/>
<path d="M331.7,202.8 L334.5,201.8 L337.6,201.8 L339.8,200.3 L342.4,199.2 L345.1,198.6 L347.3,196.9 L349.6,195.5 L352.2,195.1 L354.7,194.3 L357.1,193.4 L359.7,193.1 L362.1,192.2 L364.6,191.4 L366.9,190.1 L369.2,189.1 L371.7,188.5 L374.1,187.7 L376.6,187.2 L379.1,186.9 L381.4,186.2 L383.5,184.8 L380.6,182.8 L382.5,181.3 L385.4,183.2 L388.1,184.1 L390.3,185.8 L393.3,184.8 L392.6,182.1 L392.9,179.3 L391.3,177.4 L389.1,178.1 L386.8,178.4 L384.5,178.3 L381.5,178.7 L378.6,178.9 L377.7,176.6 L376.6,174.4 L375.4,172.1 L374.7,169.6 L375.0,166.4 L376.6,163.7 L378.5,161.7 L380.6,159.8 L382.9,158.8 L385.4,158.2 L387.4,159.6 L389.4,160.8 L389.6,163.2 L390.8,165.4 L391.9,167.6 L392.3,170.2 L392.6,172.8 L393.3,175.4 L394.0,178.4 L395.2,181.3 L398.2,184.8 L401.0,183.6 L404.0,183.6 L406.7,183.7 L409.3,183.1 L411.8,182.3 L414.3,183.4 L416.9,184.0 L419.7,184.2 L422.3,184.7 L424.9,185.4 L427.5,186.2 L430.3,187.0 L432.6,188.9 L435.3,190.1 L437.6,190.9 L439.6,192.2 L441.2,194.0 L443.4,196.0 L445.1,198.5 L446.1,202.8 L449.4,205.1 L446.1,206.7 L447.0,210.6 L448.4,212.9 L449.0,215.5 L451.1,216.8 L452.9,218.4 L456.0,218.6 L458.8,220.0 L461.4,219.6 L464.0,220.0 L466.6,220.8 L469.4,219.7 L472.4,219.8 L475.4,219.7 L478.3,220.0 L480.6,218.9 L483.3,219.7 L485.7,219.0 L488.1,218.4 L490.4,217.5 L492.9,217.1 L495.4,216.8 L497.9,216.5 L500.3,215.8 L502.6,215.0 L505.3,215.5 L507.6,214.5 L510.4,214.7 L512.8,213.5 L515.4,213.0 L518.0,212.6"/>
<path d="M331.7,202.8 L330.7,205.1 L328.8,206.7 L329.7,210.6 L330.9,213.1 L331.2,215.8 L331.7,218.4 L333.0,220.8 L333.2,223.5 L335.1,225.6 L335.6,228.2 L337.6,230.3 L338.0,233.4 L340.0,235.6 L341.5,238.0 L343.1,240.2 L343.9,242.9 L345.7,245.0 L346.4,247.8 L346.5,250.1 L346.1,252.5 L346.4,254.8 L346.9,257.2 L347.3,259.5 L346.7,262.1 L345.4,264.4 L343.5,266.1 L341.8,268.0 L339.5,269.3 L336.7,270.2 L334.3,271.8 L331.7,273.2 L329.1,272.5 L326.4,272.8 L323.9,272.2 L322.1,269.9 L320.9,267.3 L321.9,264.4 L321.9,261.4 L319.0,258.5"/>
<path d="M338.5,202.4 L339.2,204.8 L340.6,206.8 L341.8,208.8 L343.4,210.6 L344.3,212.8 L345.6,214.7 L347.4,216.3 L348.3,218.4 L351.2,219.1 L354.2,219.5 L357.1,220.4 L359.5,218.8 L362.1,217.8 L364.9,217.4 L367.4,216.2 L370.0,215.2 L372.7,214.5 L375.2,214.3 L377.8,214.2 L380.1,213.0 L382.5,212.6 L385.1,212.7 L387.5,212.3 L390.0,211.7 L392.3,210.6 L394.8,210.7 L397.2,210.7 L399.7,211.0 L402.1,211.6 L404.5,211.3 L407.0,211.5 L409.4,212.2 L411.8,212.2 L414.1,212.9 L416.5,213.0 L418.9,212.6 L421.2,213.0 L423.6,212.9 L427.5,212.2 L430.2,211.7 L432.5,209.9 L435.3,209.6 L436.1,212.2 L437.3,214.5 L439.7,216.0 L442.3,216.8 L445.1,217.4 L447.6,218.2 L450.3,218.3 L452.9,218.8"/>
<path d="M357.1,220.8 L358.5,222.7 L358.7,225.2 L360.0,227.2 L358.8,229.3 L356.8,230.9 L355.1,232.7 L354.2,235.0 L362.0,247.8 L347.3,251.7"/>
<path d="M362.0,247.8 L364.1,246.6 L366.3,245.7 L368.8,245.4 L370.8,243.8 L373.7,244.6 L376.6,244.8 L378.9,245.7 L380.8,246.8 L382.8,248.1 L384.5,249.7 L386.4,253.6 L388.5,256.0 L391.3,257.5 L394.2,258.4 L397.2,258.5 L398.2,255.3 L400.1,252.6 L402.9,252.1 L405.6,251.3 L407.9,249.7 L409.4,247.9 L410.4,245.7 L411.8,243.8 L413.8,245.8 L415.8,247.8 L417.4,245.7 L419.2,244.0 L421.6,242.9"/>
<path d="M360.0,227.2 L362.7,226.9 L364.9,225.3 L367.0,223.5 L368.8,221.4 L370.8,219.4 L372.7,217.4"/>
<path d="M364.9,226.2 L363.8,229.1 L363.9,232.1 L364.7,234.7 L364.7,237.4 L365.9,239.9 L368.1,242.1 L370.8,243.4"/>
<path d="M423.6,212.9 L421.9,215.9 L419.7,218.4 L420.3,221.3 L420.6,224.3 L420.6,227.2 L418.6,229.2 L416.0,230.4 L413.8,232.1 L415.1,234.6 L415.9,237.3 L416.7,239.9 L419.4,240.9 L421.6,242.9 L423.1,240.6 L423.6,238.0 L427.5,237.0 L428.5,240.9 L426.1,242.4 L423.6,243.4 L424.4,246.2 L425.0,249.0 L425.9,251.7 L425.9,254.9 L427.1,257.9"/>
<path d="M428.5,240.9 L430.7,240.2 L433.2,240.2 L435.3,238.9 L439.2,240.9 L441.2,239.0 L443.1,237.0 L446.1,236.1 L449.0,235.0 L447.1,232.7 L444.6,230.9 L443.1,228.2 L443.5,225.3 L444.1,222.3 L443.2,220.0 L443.1,217.4"/>
<path d="M449.0,235.0 L450.9,236.6 L451.2,239.2 L452.9,240.9 L456.0,241.4 L458.8,242.9 L461.1,243.2 L463.3,243.8 L465.6,243.8 L468.5,241.5 L471.5,241.3 L474.4,240.9 L472.2,238.6 L470.5,236.0 L470.2,233.4 L469.9,230.8 L469.5,228.2 L471.3,225.4 L472.4,222.3"/>
<path d="M465.6,243.8 L464.6,247.0 L462.7,249.7 L461.0,251.6 L459.7,253.8 L457.8,255.6 L459.1,258.5"/>
<path d="M474.4,240.9 L477.2,239.2 L480.3,238.0 L482.7,239.6 L485.5,240.6 L488.1,241.9 L490.0,243.9 L491.7,246.1 L493.9,247.8 L495.6,249.5 L497.9,250.3 L499.8,251.7 L497.8,253.5 L495.9,255.6 L493.9,257.5 L496.6,257.9 L499.1,258.4 L501.8,258.5 L504.4,258.1 L507.0,257.9 L509.6,257.5 L509.3,255.1 L509.7,252.6 L509.1,250.2 L508.6,247.8 L509.6,245.4 L510.2,243.0 L509.8,240.4 L510.6,238.0"/>
<path d="M487.1,223.3 L487.8,225.5 L488.0,227.9 L488.9,230.1 L490.0,232.1 L492.9,233.0 L495.5,234.2 L497.9,236.0 L500.4,236.3 L503.0,236.2 L505.5,236.8 L508.1,237.0 L510.6,238.0 L513.1,237.6 L515.6,237.1 L518.0,236.0"/>
<path d="M347.3,251.7 L346.8,254.1 L347.8,256.6 L347.0,259.0 L347.3,261.4 L349.6,263.6 L352.2,265.4 L354.5,266.7 L355.8,269.2 L357.6,271.0 L360.0,272.2 L362.6,272.8 L364.9,274.1 L368.1,273.8 L370.8,272.2 L373.1,271.5 L375.5,271.0 L378.0,271.1 L380.3,270.3 L382.5,269.3 L381.7,266.7 L381.8,264.1 L381.5,261.4 L382.3,259.1 L382.9,256.7 L383.5,254.3 L384.4,252.0 L385.4,249.7"/>
<path d="M431.4,267.3 L435.3,266.3 L434.0,269.2 L433.4,272.2 L431.8,270.0 L431.4,267.3"/>
<path d="M415.8,152.3 L417.6,155.1 L419.7,157.8 L421.7,159.2 L424.0,160.2 L425.7,162.0 L427.5,163.7 L430.4,162.7 L428.6,161.3 L426.5,160.1 L424.6,158.8 L422.1,157.1 L421.1,154.0 L418.7,152.3 L415.8,152.3"/>
<path d="M443.1,155.9 L446.1,154.9 L447.2,157.1 L449.0,158.8 L449.1,161.4 L450.6,163.7 L448.0,164.1 L446.5,162.2 L446.1,159.8 L444.3,158.0 L443.1,155.9"/>
<path d="M498.8,170.5 L502.8,169.6 L506.7,171.1 L508.6,173.5 L504.7,174.4 L502.2,174.8 L499.8,173.8"/>
<path d="M500.0,218.4 L502.7,218.2 L505.1,216.8 L507.8,216.5 L510.4,215.6 L513.2,215.7 L516.0,216.0 L518.6,215.1 L520.8,215.9 L523.2,215.4 L525.4,216.1 L528.4,218.0 L526.4,220.4 L528.7,222.0 L530.3,224.3 L532.3,226.1 L534.8,227.0 L537.1,228.2 L539.7,229.4 L542.6,229.6 L545.0,231.1 L547.8,231.4 L550.1,233.1 L552.8,233.7 L555.2,234.0 L557.8,233.9 L560.0,235.5 L562.6,235.2 L565.2,235.0 L567.8,234.9 L570.4,234.1 L573.2,233.0 L576.2,233.1 L578.1,231.4 L579.2,229.2 L581.3,227.9 L583.9,228.4 L586.0,227.2 L589.0,224.3 L591.4,222.8 L593.8,221.4 L596.4,220.8 L599.1,220.8 L601.7,220.4 L604.2,221.1 L606.9,220.3 L609.5,220.8 L611.8,219.6 L614.4,219.4 L611.9,218.4 L609.5,217.4 L606.9,218.1 L604.3,218.7 L601.7,218.4 L599.0,218.6 L596.4,218.4 L593.8,217.4 L591.9,214.5 L594.8,213.9 L597.8,214.1 L600.1,213.6 L602.4,213.4 L604.8,213.8 L607.1,212.9 L609.5,212.9 L612.1,213.2 L614.7,212.9 L617.3,213.5 L619.6,213.1 L621.9,212.5 L624.3,212.6 L626.6,212.1 L629.0,212.6 L631.4,212.7 L633.7,212.2 L636.0,211.5 L638.4,211.7 L640.8,211.6 L643.4,211.9 L645.9,210.4 L648.6,210.6 L650.9,211.2 L653.3,210.9 L655.6,211.2 L657.9,211.8 L660.3,211.6 L662.7,211.6 L665.0,211.8 L667.3,212.2 L669.7,212.7 L672.0,212.2 L674.6,211.8 L677.3,212.2 L679.9,211.6 L678.9,214.1 L675.9,214.3 L673.0,214.8 L670.1,215.5 L667.5,216.3 L664.9,217.0 L662.3,217.4 L659.7,218.1 L657.1,218.0 L654.5,217.4 L651.9,218.2 L649.2,217.5 L646.6,218.0 L643.8,219.1 L640.8,219.4 L639.2,223.3 L640.8,227.2 L638.4,225.9 L639.2,223.3 L643.7,223.9 L647.6,224.3 L650.5,227.2 L651.5,231.1 L649.6,234.1 L647.3,235.3 L644.7,235.6 L642.2,235.9 L639.8,235.0 L636.9,233.1"/>
<path d="M500.0,218.8 L502.6,219.3 L505.2,219.3 L507.8,218.8 L510.5,218.7 L513.2,217.8 L515.8,217.4 L518.6,217.4 L519.5,215.7"/>
<path d="M500.0,236.0 L502.6,236.1 L505.2,236.6 L507.8,237.0 L508.5,239.6 L508.4,242.4 L508.9,245.0 L508.8,247.8 L508.4,250.3 L508.6,252.7 L509.5,255.1 L509.8,257.5 L507.4,258.1 L504.8,257.4 L502.5,258.5 L500.0,258.5"/>
<path d="M507.8,237.0 L510.4,236.5 L513.0,235.7 L515.6,236.0 L518.3,236.8 L520.9,237.9 L523.5,238.9 L526.1,238.9 L528.7,238.5 L531.3,238.9 L534.2,238.6 L537.1,237.6 L540.1,238.0 L542.1,236.7 L544.2,235.5 L546.6,234.9 L548.9,234.1 L552.8,233.7"/>
<path d="M540.1,238.9 L541.4,241.7 L542.0,244.7 L542.0,247.8 L544.8,248.8 L547.4,250.0 L549.9,251.7 L552.1,253.7 L554.4,255.6 L556.7,257.5 L556.4,260.5 L556.7,263.4 L558.5,265.0 L560.4,266.6 L562.2,268.2 L564.5,269.3 L566.3,271.1 L568.0,273.0 L569.4,275.1 L572.3,278.1"/>
<path d="M586.0,227.2 L587.0,231.1 L589.1,233.2 L591.9,234.1 L594.5,233.7 L597.1,234.6 L599.7,234.5 L602.2,234.3 L604.5,233.1 L607.1,233.9 L609.5,233.1 L611.7,232.2 L613.5,230.6 L615.4,229.2 L617.7,228.6 L620.1,227.9 L622.2,226.6 L624.7,227.4 L626.7,229.0 L629.0,230.2 L631.6,231.1 L634.1,232.6 L636.9,233.1 L639.8,235.0"/>
<path d="M600.7,235.0 L600.9,238.1 L601.5,241.0 L602.6,243.8 L603.8,246.5 L604.8,249.3 L606.5,251.7 L605.3,254.2 L604.3,256.8 L603.6,259.5 L605.4,262.2 L606.5,265.4 L609.0,265.7 L611.2,266.8 L613.2,268.1 L615.4,269.3 L618.0,270.4 L619.6,272.9 L622.2,274.1 L623.6,276.1 L625.1,278.1"/>
<path d="M651.5,231.1 L654.5,232.1 L656.3,234.7 L658.4,237.0 L659.5,239.4 L660.8,241.7 L662.3,243.8 L661.5,246.3 L661.5,248.9 L659.7,251.1 L659.3,253.6 L660.0,256.2 L661.3,258.5 L662.2,261.0 L663.2,263.4 L664.0,266.4 L665.2,269.3 L667.7,269.7 L669.6,271.5 L672.0,272.2 L672.9,275.1 L673.0,278.1"/>
<path d="M654.5,232.1 L657.3,232.9 L659.8,234.4 L662.3,236.0 L664.0,238.2 L666.2,239.9 L670.1,238.9 L673.2,240.1 L676.0,241.9 L677.7,243.5 L679.5,245.1 L681.8,245.8 L684.8,244.3 L687.7,242.9 L690.3,243.7 L692.9,244.8 L695.5,245.8 L697.6,247.9 L700.0,249.7"/>
<path d="M666.2,239.9 L667.0,242.5 L668.5,244.8 L668.2,247.2 L668.1,249.7"/>
<path d="M670.1,238.9 L672.0,242.9"/>
<path d="M681.8,245.8 L682.8,248.6 L684.2,251.3"/>
<path d="M687.7,212.6 L690.0,211.4 L692.5,210.9 L695.0,210.5 L697.6,210.6 L700.0,209.6"/>
<path d="M694.5,214.1 L694.5,216.9 L693.8,219.6 L693.5,222.3 L692.6,224.7 L691.1,226.6 L689.4,228.4 L687.7,230.2 L685.6,231.3 L683.6,232.6 L681.7,233.9 L679.9,235.4 L682.4,234.4 L685.1,233.9 L687.7,233.1 L690.1,232.7 L692.6,232.3 L695.0,231.4 L697.6,232.1 L700.0,231.1"/>
<path d="M588.0,200.8 L591.9,198.9 L595.8,198.9 L597.8,201.8 L601.7,200.8 L603.0,198.7 L605.4,197.6 L606.5,195.4 L607.4,197.7 L609.7,198.9 L610.5,201.2 L608.5,203.0 L606.5,204.7 L603.5,205.1 L600.7,206.3 L597.8,203.8 L594.8,203.1 L591.9,203.8 L589.9,202.3 L588.0,200.8"/>
<path d="M594.2,207.7 L596.8,207.3 L597.2,208.7 L594.6,208.8 L594.2,207.7"/>
<path d="M602.6,208.7 L605.6,208.7 L606.7,210.6 L604.0,211.0 L602.6,208.7"/>
<path d="M551.2,202.8 L553.4,202.0 L555.7,201.8 L559.0,203.8 L556.7,205.7 L552.4,205.1 L551.2,202.8"/>
<path d="M500.0,170.5 L503.9,169.6 L506.2,170.4 L508.2,171.9 L507.8,173.8 L505.4,173.0 L502.9,173.5 L500.0,174.2"/>
<path d="M523.1,171.9 L526.4,170.5 L525.4,173.5 L523.1,171.9"/>
<path d="M579.2,169.6 L581.7,169.2 L582.7,171.1 L580.7,172.5 L579.2,171.1 L579.2,169.6"/>
<path d="M586.8,173.5 L587.6,173.8"/>
<path d="M588.0,175.0 L588.6,175.6"/>
<path d="M633.7,187.7 L634.7,188.5"/>
<path d="M683.8,163.7 L684.2,161.1 L685.3,158.8 L688.1,157.0 L689.6,159.8 L688.1,164.1 L684.8,165.6 L683.8,163.7"/>
<path d="M688.4,212.3 L691.1,211.6 L693.6,210.3 L696.4,210.1 L699.1,209.3 L701.7,209.5 L703.9,207.8 L706.5,208.3 L708.9,207.4 L711.3,207.4 L713.8,207.4 L711.8,211.3 L710.6,214.1 L710.4,217.2 L710.8,219.8 L712.1,222.3 L712.4,225.0 L711.0,227.1 L710.7,229.5 L709.9,231.8 L707.3,232.9 L704.6,233.5 L701.8,233.3 L699.1,233.8 L696.7,233.8 L694.2,234.0 L691.8,234.3 L689.3,233.8 L686.9,234.5 L684.5,235.0 L681.9,234.8 L679.5,235.7 L681.1,233.6 L683.7,232.7 L685.4,230.8 L687.6,229.9 L689.0,227.8 L691.3,226.9 L693.3,224.8 L694.2,222.0 L694.0,219.5 L693.2,217.2 L692.0,215.1 L689.8,214.1 L688.4,212.3"/>
<path d="M660.0,213.2 L662.4,212.8 L664.9,212.6 L667.4,213.2 L669.8,212.3 L672.2,212.0 L674.6,211.4 L677.1,211.1 L679.5,210.9 L678.6,213.2 L675.7,214.2 L672.9,215.2 L669.8,215.2 L667.5,216.5 L664.8,216.2 L662.5,217.7 L660.0,218.1"/>
<path d="M660.0,236.7 L662.8,237.8 L665.9,237.7 L667.8,235.7 L670.0,237.4 L672.0,239.4 L673.7,241.6 L676.6,243.1 L679.5,244.5 L682.5,244.1 L685.4,244.5 L687.4,241.6 L690.3,242.6 L689.3,245.5 L691.4,246.7 L692.9,248.6 L695.2,249.4 L697.6,251.2 L700.2,252.4 L703.0,253.3 L705.6,253.8 L708.1,254.5 L710.8,254.3 L712.9,256.7 L715.7,258.2 L717.1,260.7 L718.6,263.1 L714.7,265.0 L712.1,266.8 L709.9,268.9 L707.9,271.9 L709.4,269.5 L711.8,268.0 L714.2,267.0 L716.3,265.3 L718.6,264.1 L718.6,266.7 L719.1,269.3 L719.6,271.9 L720.6,274.0 L721.7,276.1 L721.3,278.7 L722.6,280.7 L723.6,283.5 L723.5,286.6 L725.8,287.5 L728.2,288.3 L730.4,289.5 L732.2,287.8 L734.3,286.6 L736.8,287.5 L739.3,288.5 L742.1,288.5 L745.2,289.7 L748.0,291.4 L750.3,293.6 L752.9,295.4 L754.5,297.1 L755.8,299.3 L758.7,300.3 L761.7,301.2 L764.3,302.4 L767.1,303.4 L769.5,305.1 L772.6,306.0 L775.4,307.7"/>
<path d="M754.8,295.7 L757.2,296.5 L758.9,298.4 L761.3,299.0 L763.6,299.8 L765.6,301.2 L766.5,304.1 L764.6,302.4 L762.5,301.1 L759.9,300.5 L757.8,299.3"/>
<path d="M667.8,236.7 L668.8,239.6 L668.8,242.6 L668.7,245.6 L667.8,248.4 L669.8,244.5"/>
<path d="M663.9,238.7 L663.5,241.8 L662.0,244.5 L662.9,248.4"/>
<path d="M681.5,245.5 L682.7,247.8 L683.5,250.4 L684.4,247.4"/>
<path d="M707.9,271.9 L708.0,274.4 L707.3,276.9 L706.8,279.3 L705.9,281.7 L704.5,283.9 L702.9,285.9 L702.0,288.5 L698.6,288.1 L695.2,288.5 L692.6,288.2 L690.0,287.7 L687.4,287.1 L689.3,288.6 L691.4,289.9 L693.2,291.4 L696.3,292.7 L699.1,294.4 L701.9,293.1 L704.9,292.8 L707.9,292.4 L710.4,292.0 L712.2,290.0 L714.7,289.5 L717.7,288.7 L720.6,288.1 L723.5,287.1"/>
<path d="M660.0,258.2 L660.5,261.0 L662.3,263.3 L662.9,266.0 L664.7,267.8 L665.9,269.9 L669.0,271.1 L671.7,272.9 L672.8,275.2 L673.7,277.8 L671.8,279.8 L669.3,281.2 L667.8,283.6 L665.6,284.7 L663.6,286.1 L662.4,288.6 L660.0,289.5"/>
<path d="M660.0,298.3 L662.2,297.2 L664.7,297.8 L667.1,297.6 L669.4,296.7 L671.7,296.3 L685.4,293.4 L686.4,297.3 L684.4,299.2 L682.5,301.2 L684.1,303.2 L684.6,305.7 L685.4,308.1"/>
<path d="M298.6,295.1 L300.7,293.6 L302.2,291.5 L303.5,289.3 L306.1,288.8 L308.6,287.9 L310.7,286.0 L313.2,285.4 L316.4,286.4 L319.1,288.3 L320.5,290.6 L321.1,293.2 L319.7,295.1 L318.2,297.0 L317.1,299.1 L316.2,303.0 L318.2,305.4 L321.1,306.9 L323.9,308.1 L326.9,308.8 L328.2,311.9 L329.9,314.7 L329.8,317.4 L330.6,319.9 L330.8,322.5 L332.7,324.5 L334.7,326.4 L337.7,327.4 L334.9,327.8 L332.3,326.5 L329.6,327.1 L326.9,326.4 L324.3,326.0 L321.7,326.5 L319.1,326.8 L317.1,329.4 L314.6,330.6 L312.1,331.8 L309.3,332.3 L306.4,331.3"/>
<path d="M319.1,326.8 L321.8,327.0 L324.3,328.1 L326.9,328.4 L329.9,328.7 L332.8,327.8 L335.7,328.4"/>
<path d="M321.1,258.0 L322.0,260.5 L321.7,263.2 L322.0,265.8 L323.6,267.5 L325.4,269.0 L326.9,270.7 L329.5,270.3 L332.1,270.9 L334.7,270.7 L337.4,268.6 L340.6,267.8 L342.0,265.9 L343.8,264.5 L345.5,262.9 L347.1,260.7 L347.4,258.0"/>
<path d="M352.3,264.8 L354.1,267.2 L355.8,269.8 L358.2,271.7 L361.1,272.6 L364.1,273.6 L366.0,275.6 L364.3,277.8 L362.1,279.5 L360.4,281.4 L357.8,282.3 L356.2,284.4 L354.7,286.2 L353.9,288.4 L352.3,290.3 L351.6,292.9 L349.7,294.8 L348.4,297.1 L346.5,299.1 L350.4,297.1 L351.9,294.9 L352.9,292.5 L354.3,290.3 L354.9,287.2 L356.2,284.4"/>
<path d="M348.4,300.0 L347.2,302.4 L346.5,304.9 L344.1,306.1 L342.8,308.5 L340.6,309.8 L339.1,311.9 L336.8,313.2 L334.7,314.7 L331.8,317.6 L331.4,320.1 L330.8,322.5"/>
<path d="M347.4,258.0 L349.3,259.5 L351.6,260.3 L353.3,261.9 L354.6,264.4 L356.3,266.7 L358.2,268.8 L360.1,270.4 L362.4,271.7 L364.1,273.6 L366.8,273.6 L369.2,272.1 L371.9,271.7 L374.8,272.3 L377.8,272.1 L379.4,269.7 L381.7,267.8 L381.8,264.8 L382.6,261.9 L384.4,260.2 L385.6,258.0"/>
<path d="M377.8,272.1 L379.9,273.7 L381.2,276.2 L383.6,277.6 L386.2,278.9 L389.0,279.8 L391.4,281.5 L394.0,281.6 L396.4,282.3 L398.7,283.2 L401.2,283.4 L403.5,285.3 L406.6,285.6 L409.0,287.3 L411.1,288.9 L413.2,290.4 L414.5,293.0 L416.9,294.2 L418.6,295.9 L420.0,297.7 L420.8,300.0 L422.8,301.2 L424.1,303.2 L425.6,304.9 L427.6,305.9"/>
<path d="M408.1,289.3 L409.3,291.6 L411.1,293.5 L412.9,295.4 L414.9,297.1 L416.0,299.2 L417.7,300.8 L419.8,302.0 L422.4,303.2 L424.7,304.9"/>
<path d="M331.8,320.6 L333.9,322.2 L334.8,324.9 L336.7,326.6 L338.6,328.4 L341.6,329.1 L343.8,331.2 L346.5,332.3 L348.8,332.5 L351.2,332.9 L353.6,333.2 L355.9,333.4 L358.2,334.2 L360.6,332.6 L363.3,332.0 L366.0,331.3 L367.8,329.5 L370.3,328.6 L371.9,326.4 L373.5,324.5 L375.8,323.5 L379.0,322.6 L381.7,320.6 L383.4,318.9 L385.5,317.8 L387.5,316.6 L390.3,316.1 L392.9,315.1 L395.4,313.7 L397.2,312.3 L398.9,310.6 L401.2,309.8 L404.1,308.3 L407.1,306.9 L409.5,306.9 L411.9,307.9 L414.4,307.2 L416.9,307.9 L419.5,308.3 L421.9,309.7 L424.7,309.8"/>
<path d="M425.6,258.0 L427.8,259.5 L429.0,261.8 L430.5,263.9 L432.8,265.7 L435.4,266.8 L434.7,269.0 L435.4,271.4 L434.4,273.6 L436.4,277.6 L434.9,280.4 L432.5,282.4 L434.8,283.4 L436.4,285.4 L438.9,286.6 L441.7,286.4 L444.2,287.3 L446.8,287.8 L449.4,288.1 L452.0,287.7"/>
<path d="M459.9,258.0 L461.1,260.5 L462.1,263.1 L462.8,265.8 L461.5,268.3 L461.3,271.0 L460.8,273.6 L459.7,276.7 L457.9,279.5 L457.3,282.1 L457.5,284.8 L456.9,287.3 L457.9,290.3"/>
<path d="M452.0,287.7 L454.6,288.2 L456.9,289.3 L458.7,290.9 L459.1,293.4 L460.1,295.4 L461.8,297.1 L463.6,299.2 L465.3,301.4 L467.7,303.0 L469.8,304.5 L471.2,306.6 L472.6,308.8 L474.1,310.8 L475.5,312.7"/>
<path d="M424.7,304.9 L426.8,303.7 L428.4,302.1 L429.4,299.9 L430.9,298.2 L432.8,296.7 L434.4,295.1 L436.4,293.8 L438.7,292.9 L440.1,290.7 L442.5,290.0 L444.2,288.3"/>
<path d="M427.6,305.9 L428.8,308.1 L430.5,309.8 L433.4,310.8 L436.4,310.8 L438.8,311.6 L441.3,311.9 L443.8,312.0 L446.2,312.7 L448.6,312.4 L451.1,312.4 L453.5,312.8 L455.9,312.4 L458.4,311.6 L460.8,311.6 L463.3,312.3 L465.7,311.8 L468.2,310.8 L470.8,309.9 L473.6,309.8 L477.0,310.2 L480.0,311.8"/>
<path d="M456.9,287.3 L457.8,290.0 L459.1,292.5 L459.9,295.1 L460.8,297.5 L462.4,299.4 L463.7,301.4 L465.7,303.0 L467.9,304.0 L470.0,305.1 L471.6,306.9 L474.0,309.0 L475.5,311.8"/>
<path d="M470.0,304.9 L471.3,306.9 L472.4,309.0 L473.9,310.8 L476.6,312.0 L479.3,313.1 L481.7,314.7 L484.4,315.2 L486.9,316.2 L489.6,316.6 L491.9,317.4 L494.4,318.0 L496.8,318.6 L499.3,318.6 L501.9,319.2 L504.6,318.7 L507.1,319.6 L509.4,318.5 L511.1,316.6 L513.2,317.6 L514.9,319.2 L517.0,320.2 L518.9,321.5 L521.4,321.6 L523.7,320.6 L526.2,320.4 L528.6,320.6 L531.1,318.9 L533.6,317.5 L536.5,316.6 L539.0,315.8 L541.1,314.1 L543.3,312.7 L546.7,312.5 L550.2,312.7 L552.8,313.2 L555.2,314.7 L558.0,314.7 L560.9,316.2 L563.8,317.6 L566.0,318.6 L567.5,320.6 L569.7,321.5 L572.7,321.3 L575.6,320.6 L578.5,319.9 L580.5,317.5 L583.4,316.6 L585.4,312.7 L582.4,310.8 L584.8,309.3 L587.3,307.9 L590.3,307.6 L593.2,306.5 L595.9,308.6 L599.0,309.8 L602.9,311.8 L605.3,310.2 L606.4,307.4 L608.8,305.9 L611.4,305.0 L613.9,304.1 L616.6,303.9 L619.1,302.9 L622.0,303.3 L624.5,302.0 L627.1,300.8 L629.9,299.9 L632.3,298.1 L634.9,297.6 L637.5,297.9 L640.1,297.1 L643.0,297.0 L646.0,297.1 L647.7,295.4 L649.9,294.2 L652.6,293.2 L655.4,292.1 L657.7,290.3 L660.1,288.8 L662.9,288.4 L665.5,287.3 L667.8,286.0 L670.0,284.4"/>
<path d="M518.9,321.5 L517.1,323.2 L515.1,324.3 L513.0,325.4 L512.1,328.0 L510.8,330.2 L509.1,332.3 L506.6,333.9 L503.8,334.8 L501.3,336.2 L498.6,337.3 L496.2,339.2 L493.5,340.1 L493.1,343.3 L491.5,346.0 L492.7,348.8 L493.5,351.8 L491.9,354.3 L491.2,357.2 L489.6,359.7 L489.3,362.2 L488.6,364.6 L487.2,366.5 L485.0,367.5 L483.7,369.4 L482.3,371.4 L481.6,373.7 L479.8,375.3 L475.9,373.4 L472.7,372.4 L470.0,370.4"/>
<path d="M479.8,375.3 L482.8,376.1 L485.6,377.3 L487.0,380.2 L488.6,383.1 L487.6,386.1"/>
<path d="M475.9,373.4 L476.7,375.7 L478.4,377.7 L478.8,380.2 L477.8,383.3 L475.9,386.1"/>
<path d="M556.0,258.0 L556.2,260.5 L557.0,262.9 L558.7,264.4 L560.5,265.9 L561.9,267.8 L564.9,268.5 L567.8,269.7 L568.6,272.9 L570.7,275.6 L572.8,276.9 L574.6,278.5 L573.5,280.9 L572.6,283.4 L569.7,283.1 L566.8,282.4 L563.9,283.1 L560.9,283.4 L559.8,285.9 L558.9,288.5 L559.0,291.2 L557.9,293.5 L556.9,295.8 L555.0,297.7 L554.1,300.0 L553.1,302.2 L552.0,304.3 L550.2,305.9 L548.7,308.1 L548.2,310.8 L550.2,312.7"/>
<path d="M603.9,258.0 L605.0,260.2 L605.5,262.7 L606.9,264.8 L609.5,265.7 L611.9,267.3 L614.7,267.8 L616.6,268.9 L618.8,269.8 L620.9,270.9 L622.5,272.7 L623.7,275.0 L624.9,277.3 L626.4,279.5 L629.1,281.0 L632.3,281.5 L635.2,281.0 L638.1,281.9 L641.1,281.9 L639.7,282.8 L640.1,287.3 L642.2,288.8 L644.0,290.6 L646.0,292.2 L649.9,294.2"/>
<path d="M662.6,258.0 L664.0,260.4 L664.8,263.1 L665.5,265.8 L667.7,267.8 L670.0,269.7"/>
<path d="M638.1,320.6 L642.0,319.6 L644.4,319.9 L646.5,318.4 L648.9,318.6 L647.9,322.5 L645.0,325.4 L646.9,327.4 L647.9,329.8 L648.9,332.3 L647.0,335.0 L646.0,338.2 L644.4,340.9 L644.0,344.0 L644.9,346.4 L645.0,348.9 L642.0,351.4 L639.1,347.9 L638.6,345.0 L639.1,342.1 L641.1,339.4 L642.0,336.2 L644.1,333.6 L645.0,330.3 L642.0,327.4 L639.1,326.4 L640.1,323.5 L638.1,320.6"/>
<path d="M534.5,386.1 L534.8,383.8 L534.5,381.4 L535.5,379.2 L538.2,378.3 L540.4,376.3 L542.8,375.6 L545.3,375.3 L544.7,377.9 L545.1,380.5 L545.3,383.1 L544.3,386.1"/>
<path d="M773.3,307.9 L775.7,309.7 L778.8,310.4 L781.1,312.4 L792.9,322.9 L794.3,324.8 L796.5,325.9 L798.1,327.6 L799.7,329.4 L800.7,332.5 L802.6,335.2 L802.2,338.1 L803.1,341.1 L802.6,344.0 L802.4,346.7 L801.5,349.3 L800.7,351.8 L800.0,354.4 L799.5,357.1 L798.7,359.7 L798.6,362.1 L797.8,364.3 L796.8,366.5 L796.8,369.5 L796.9,372.4 L797.7,375.3 L798.5,377.9 L798.0,380.7 L797.8,383.4 L798.3,386.1"/>
<path d="M797.1,366.5 L797.4,363.4 L799.3,360.8 L799.7,357.7 L800.7,354.5 L802.6,351.8 L805.6,350.5 L808.5,348.9 L810.9,349.7 L813.3,350.6 L815.9,350.9 L818.3,351.8 L820.3,353.2 L822.1,354.9 L824.2,356.2 L826.1,357.7 L827.9,359.8 L830.0,361.6 L832.0,363.6 L833.6,365.5 L835.7,367.1 L836.8,369.4 L839.1,370.2 L841.4,370.7 L843.7,371.4 L846.4,373.1 L848.6,375.3 L848.9,378.0 L849.5,380.6 L850.5,383.1 L851.5,386.1"/>
<path d="M853.1,386.1 L856.0,383.1"/>
<path d="M685.3,304.1 L686.4,306.5 L687.3,308.8 L689.3,310.2 L690.7,312.2 L692.8,313.6 L694.1,315.7 L695.7,312.9 L698.0,310.8 L700.5,310.2 L702.9,309.8 L705.2,311.0 L706.9,313.0 L708.8,314.7 L711.2,315.9 L713.7,317.0 L715.6,315.1 L718.3,314.3 L720.5,312.7 L736.2,312.4"/>
<path d="M478.2,375.8 L479.7,373.4 L482.3,372.1 L484.1,369.9 L486.0,366.0"/>
<path d="M478.2,375.8 L481.0,377.1 L484.1,377.7 L488.0,379.7 L487.5,382.6 L487.0,385.6 L486.6,388.2 L485.0,390.4 L487.5,390.9 L489.9,391.4 L492.9,392.2 L495.8,393.4 L498.4,393.2 L500.5,391.4 L503.3,391.6 L505.6,390.4 L508.0,390.7 L510.3,390.0 L512.7,389.7 L514.9,388.4 L517.3,388.5 L519.6,389.6 L522.2,389.4 L524.5,390.6 L527.1,390.4 L529.0,388.3 L530.0,385.6 L532.2,383.7 L534.9,382.6 L535.8,380.2 L535.9,377.7 L538.9,377.7 L541.6,375.8 L544.7,375.8 L545.4,378.7 L545.6,381.6 L544.8,384.0 L544.7,386.5 L547.0,388.7 L548.6,391.4 L551.7,391.0 L554.5,389.5 L558.4,391.4 L558.2,394.4 L557.4,397.3 L559.0,400.0 L561.3,402.2 L560.2,404.9 L558.4,407.1 L558.9,410.0 L559.3,412.9 L560.9,415.3 L563.2,416.8 L564.3,419.3 L564.9,422.0 L565.2,424.6 L566.8,426.3 L568.6,427.7 L570.1,429.5 L573.1,429.4 L576.0,430.5 L578.1,429.4 L580.4,428.8 L582.8,428.6 L581.9,430.8 L581.9,433.1 L581.8,435.4 L580.3,438.2 L579.9,441.3"/>
<path d="M798.2,385.6 L798.0,388.6 L796.9,391.4 L796.0,393.8 L796.4,396.4 L795.4,398.7 L794.9,401.2 L792.6,401.7 L790.4,402.7 L788.0,403.1 L787.5,405.8 L788.0,408.4 L788.0,411.0 L788.5,413.3 L788.7,415.8 L790.4,417.9 L789.7,420.5 L791.0,422.7 L792.3,424.8 L794.0,426.5 L795.0,428.8 L796.9,430.5 L798.4,432.3 L798.7,434.8 L800.4,436.4 L801.7,438.3 L802.3,440.9 L802.0,443.6 L802.7,446.2 L801.5,448.2 L800.5,450.3 L798.8,452.0 L801.2,452.8 L803.7,453.0 L805.3,454.9 L805.2,457.6 L807.0,459.5 L807.6,461.8 L807.9,464.3 L807.9,466.8 L809.0,469.1 L809.6,471.6 L810.0,474.2 L811.1,476.7 L811.5,479.4 L812.9,481.8 L813.5,484.4 L813.5,487.2 L814.3,489.4 L814.0,491.8 L814.5,494.1"/>
<path d="M823.2,420.7 L824.0,423.3 L824.5,426.0 L825.2,428.6 L823.5,430.8 L823.2,433.7 L821.9,436.1 L820.3,438.3 L819.1,440.9 L819.0,443.8 L817.4,446.2 L818.7,448.6 L818.9,451.3 L819.3,454.0 L821.2,455.6 L822.4,457.8 L824.0,459.6 L825.2,461.8 L826.4,463.8 L827.7,465.8 L829.1,467.7 L830.8,470.1 L831.6,472.9 L833.0,475.5 L836.0,475.8 L838.9,475.6 L841.8,476.5 L843.3,479.3 L845.7,481.4 L846.7,483.9 L847.5,486.4 L847.7,489.2 L848.7,491.5 L848.7,494.1"/>
<path d="M851.4,385.9 L850.3,388.4 L849.1,390.7 L848.7,393.4 L847.3,395.8 L846.8,398.6 L845.7,401.2 L845.7,403.5 L845.8,405.9 L844.8,408.0 L848.7,410.0 L847.7,411.9 L844.8,411.0 L844.5,413.9 L844.8,416.8 L841.8,417.1 L838.9,417.7 L836.0,417.8 L833.3,417.9 L830.8,418.5 L828.1,418.8 L825.5,419.2 L823.2,420.7"/>
<path d="M855.5,382.6 L853.8,384.9 L852.6,387.5 L851.9,390.6 L850.6,393.4 L849.4,395.8 L849.9,398.7 L848.7,401.2"/>
<path d="M452.4,534.6 L437.8,535.2 L435.0,535.1 L432.3,535.3 L429.5,535.6 L426.8,535.8 L424.1,535.2 L407.4,535.2 L405.2,533.8 L402.6,533.0 L399.7,534.0 L396.7,533.6 L394.2,534.5 L391.8,535.6 L390.9,539.0 L391.2,542.4 L390.9,544.9 L390.1,547.1 L388.9,549.3"/>
<path d="M393.8,558.1 L396.0,558.5 L398.3,558.7 L400.6,559.0 L403.2,559.2 L405.8,559.5 L408.4,559.0 L410.4,560.4 L411.9,562.1 L413.3,563.9 L414.8,566.8 L415.9,569.8 L415.3,573.7 L412.9,574.5 L410.4,574.1 L407.6,572.4 L404.5,571.8 L401.8,572.0 L399.2,572.8 L396.7,573.7 L394.2,574.9 L391.4,574.3 L388.9,575.3 L386.1,575.6 L383.4,576.6 L383.4,597.2"/>
<path d="M452.4,534.6 L450.9,532.7 L449.5,530.7 L450.6,528.0 L451.1,525.2 L453.4,526.8 L454.4,529.2 L455.4,531.7 L459.3,533.6 L462.1,532.3 L465.1,531.7 L466.7,529.0 L468.8,526.9 L471.0,524.8 L472.6,523.0 L474.8,522.0 L476.9,520.9 L480.8,520.9 L481.7,523.1 L483.0,525.0 L484.0,527.0 L485.6,528.7 L486.4,531.3 L487.9,533.5 L488.5,536.1 L489.6,538.5 L489.9,541.0 L489.6,543.5 L490.3,545.9 L490.5,548.3 L491.4,551.2 L491.5,554.2 L494.0,554.2 L496.4,553.8 L498.8,550.2"/>
<path d="M810.5,474.0 L810.2,476.7 L811.6,479.2 L811.5,481.8 L812.0,484.6 L814.1,486.8 L814.5,489.6 L814.5,492.1 L814.3,494.6 L813.4,496.9 L813.5,499.4 L811.9,501.8 L811.2,504.5 L810.5,507.2 L809.8,509.9 L808.1,512.3 L807.6,515.1 L806.9,517.6 L806.0,520.1 L804.1,522.2 L803.7,524.8 L802.5,527.2 L801.5,529.6 L800.5,532.1 L799.8,534.6 L798.2,536.6 L797.9,539.2 L796.9,541.5 L794.1,543.0 L792.0,545.4 L791.2,547.8 L791.0,550.2 L790.0,553.8"/>
<path d="M800.8,551.2 L801.6,548.7 L801.3,546.0 L801.7,543.4 L804.1,542.7 L806.3,541.5 L808.6,540.5 L811.2,540.9 L813.9,541.4 L816.4,542.4 L818.5,541.4 L820.0,539.5 L822.6,539.2 L824.2,537.5 L826.6,536.6 L829.0,535.9 L831.5,535.5 L834.0,535.6 L836.4,534.0 L837.8,531.5 L839.9,529.7 L842.6,527.8 L845.7,526.8 L847.8,525.5 L850.1,524.9 L852.6,524.8 L855.5,526.8"/>
<path d="M832.0,474.0 L834.0,476.4 L836.4,476.8 L838.9,476.8 L841.3,477.1 L843.8,476.9 L844.5,479.3 L846.3,481.3 L846.7,483.8 L847.1,486.2 L847.9,488.6 L847.7,491.2 L848.7,493.6 L849.6,495.8 L850.8,497.8 L852.6,499.4 L854.6,502.1 L855.5,505.3"/>
<path d="M702.7,64.0 L705.7,62.0 L708.0,63.4 L710.6,64.0 L712.2,66.3 L714.6,67.9 L715.5,71.2 L717.6,73.9 L717.9,76.4 L717.2,78.8 L713.6,76.9 L711.0,76.8 L708.6,75.9 L707.7,71.9 L704.7,68.9 L703.2,66.6 L702.7,64.0"/>
<path d="M708.6,95.7 L710.6,91.8 L714.0,90.4 L715.4,92.3 L715.6,94.7 L714.8,97.0 L714.5,99.3 L714.6,101.7 L712.0,103.7 L709.2,101.1 L709.1,98.4 L708.6,95.7"/>
<path d="M701.3,120.5 L703.3,116.6 L706.1,116.2 L707.3,120.5 L706.1,124.5 L702.7,124.1 L701.3,120.5"/>
<path d="M759.3,119.5 L761.7,117.6 L764.2,120.5 L765.7,122.4 L767.8,123.5 L766.8,126.9 L763.3,127.5 L760.3,124.5 L760.0,122.0 L759.3,119.5"/>
<path d="M683.8,162.2 L685.8,158.3 L689.2,157.3 L689.8,161.2 L687.8,165.2 L684.8,165.6 L683.8,162.2"/>
<path d="M701.7,128.5 L703.7,129.7"/>
<path d="M698.9,139.0 L699.5,140.0"/>
<path d="M693.4,147.6 L695.7,148.7 L694.1,149.5 L693.4,147.6"/>
<path d="M179.7,258.0 L181.4,257.0 L179.1,257.8 L176.9,258.6 L174.4,258.6 L171.3,259.6 L168.1,259.4"/>
<path d="M339.1,272.0 L336.6,273.7 L334.8,276.3 L332.3,277.9 L330.4,279.4 L328.4,280.7 L326.8,282.5 L324.4,283.3 L321.6,284.3 L318.6,284.7 L315.6,286.7 L313.7,285.2 L309.8,287.2 L306.9,288.4 L303.9,289.1 L300.0,290.1"/>
<path d="M315.6,286.7 L319.6,288.6 L321.0,292.6 L321.0,294.0"/>
<path d="M342.0,265.2 L345.9,263.2 L349.4,262.3 L349.9,264.2 L346.9,267.6 L343.0,269.1 L341.1,268.6"/>
<path d="M349.9,264.2 L351.8,265.2 L350.1,267.0 L348.9,269.1 L346.9,269.6 L345.9,268.6"/>
<path d="M341.1,269.1 L345.0,270.1 L344.0,272.5 L341.1,274.4 L338.1,275.9 L336.2,275.4 L339.1,272.0 L341.1,269.1"/>
<path d="M383.2,143.6 L384.6,143.2 L387.6,146.2 L389.4,149.0 L388.4,149.8 L385.4,147.6 L383.2,143.6"/>
</g>
<g fill="none" stroke="#0a0c10" stroke-width="1.05" stroke-linejoin="round">
<path d="M315.0,178.3 L313.8,180.6 L311.6,182.2 L310.7,184.7 L309.2,187.2 L307.3,189.4 L306.2,192.0 L304.9,194.5 L302.4,195.8 L299.7,195.9 L297.0,196.5 L295.1,198.5 L293.1,200.4 L291.6,202.5 L291.0,205.2 L289.3,207.3 L288.4,209.7 L287.3,212.1 L286.5,214.7 L284.4,216.6 L284.3,219.4 L282.1,221.3 L281.4,223.8 L281.3,226.3 L280.9,228.7 L280.1,231.0 L278.7,233.1 L278.5,235.6 L277.3,237.9 L278.2,240.6 L277.0,242.9 L276.5,245.3 L275.2,248.0 L273.5,250.4 L272.6,253.2 L271.5,255.8 L269.7,258.1"/>
<path d="M748.0,291.4 L749.3,294.0 L750.8,296.6 L751.9,299.3 L750.2,300.9 L749.6,303.4 L748.0,305.1 L746.0,308.1"/>
<path d="M283.9,267.8 L284.1,270.3 L285.8,272.4 L286.7,274.7 L286.8,277.3 L287.8,279.5 L289.3,281.9 L291.3,284.1 L292.1,286.9 L293.7,289.3 L295.8,290.8 L296.6,293.5 L298.6,295.1 L298.6,297.8 L298.8,300.4 L299.6,303.0 L298.4,305.5 L297.8,308.3 L296.6,310.8 L296.4,313.4 L296.1,316.0 L295.6,318.6 L295.3,321.1 L296.8,323.4 L295.8,326.0 L296.6,328.4 L299.6,331.3 L303.0,330.6 L306.4,331.3 L307.3,333.7 L307.4,336.2 L309.1,339.0 L310.3,342.1 L312.4,344.1 L315.2,345.0 L318.1,344.0 L321.1,343.0 L323.5,343.1 L325.9,344.1 L328.4,343.4 L330.8,344.0 L333.2,344.2 L335.5,344.5 L337.8,345.0 L340.2,345.2 L342.6,345.0 L345.1,344.7 L347.4,343.8 L349.8,343.3 L352.3,343.0 L354.7,342.3 L357.3,343.1 L359.7,342.6 L362.1,342.1 L364.4,343.1 L367.1,343.1 L369.5,344.2 L371.9,345.0 L375.8,346.9 L378.3,346.9 L380.7,346.0 L382.2,348.0 L384.4,349.5 L385.6,351.8 L387.2,353.8 L388.2,356.1 L390.6,357.5 L392.2,359.4 L393.4,361.6 L395.2,363.2 L396.3,365.3 L397.7,367.2 L400.0,368.3 L401.2,370.4 L403.6,372.4 L405.4,374.7 L407.1,377.3 L410.1,377.5 L412.9,378.2 L414.9,376.3 L416.9,374.3 L419.6,374.5 L422.1,375.4 L424.7,376.3 L427.1,375.6 L429.6,376.5 L432.0,375.9 L434.4,375.3 L436.7,374.3 L439.3,375.2 L441.4,373.5 L443.8,373.6 L446.2,373.4 L448.6,373.7 L450.8,373.1 L453.1,372.7 L455.3,371.9 L457.5,371.3 L459.9,371.4 L462.3,371.4 L464.7,370.3 L467.1,370.2 L469.6,370.4 L472.6,371.7 L475.5,373.4 L478.0,373.7 L480.0,375.3"/>
<path d="M745.9,308.1 L744.1,309.5 L742.0,310.8 L739.2,311.7 L736.7,313.1 L734.2,314.7 L731.9,315.4 L729.6,315.8 L727.4,316.6 L725.9,319.6 L724.4,322.5 L723.4,324.8 L721.5,326.4 L722.8,329.4 L724.4,332.3 L725.1,334.7 L725.4,337.2 L727.7,338.5 L730.3,339.1 L732.9,339.2 L735.2,338.2 L737.1,342.1 L735.9,344.1 L734.4,345.9 L733.2,347.9 L730.8,348.6 L728.7,350.0 L726.4,350.9 L723.6,352.7 L720.5,353.8 L717.1,353.5 L713.7,353.8 L710.5,354.8 L707.8,356.7 L705.6,357.9 L703.9,359.7 L704.6,362.7 L705.9,365.5 L705.6,368.2 L706.2,370.8 L706.8,373.4 L704.7,375.1 L702.9,377.3 L701.0,379.7 L699.0,382.1 L698.0,386.1"/>
<path d="M400.0,369.9 L402.1,371.7 L403.8,374.0 L405.9,375.8 L409.0,376.2 L411.7,377.7 L414.3,376.3 L417.1,375.5 L419.6,373.8 L421.9,374.6 L424.4,375.0 L427.0,374.9 L429.3,375.8 L431.8,375.4 L434.2,375.2 L436.7,375.2 L439.1,374.8 L441.4,374.3 L443.8,374.3 L446.2,374.3 L448.4,372.8 L450.8,372.8 L453.2,372.7 L455.6,372.5 L457.8,371.5 L460.2,371.3 L462.6,370.9 L465.2,371.4 L467.7,369.8 L470.4,370.3 L472.8,371.6 L475.3,372.8 L478.2,375.8 L477.2,378.5 L475.3,380.7 L473.4,382.9 L472.3,385.6 L471.4,388.1 L471.7,390.8 L471.4,393.4 L470.9,396.5 L469.4,399.2 L467.7,401.1 L466.1,403.1 L464.5,405.1 L463.9,407.7 L463.9,410.3 L463.5,412.9 L463.8,415.4 L464.0,417.9 L465.0,420.3 L465.5,422.7 L465.1,425.2 L463.9,427.4 L464.4,430.1 L463.5,432.5 L463.8,435.0 L464.7,437.3 L464.6,439.9 L465.5,442.2 L467.0,444.7 L466.8,447.7 L468.4,450.1 L469.6,452.6 L471.0,455.1 L471.4,457.9 L472.9,459.7 L474.1,461.7 L475.3,463.8 L477.3,465.3 L478.2,467.7 L479.9,469.5 L481.6,471.5 L483.1,473.5 L481.8,476.4 L481.1,479.4 L479.1,481.3 L476.9,483.1 L474.8,484.9 L472.3,486.2 L470.1,487.6 L468.0,489.0 L466.5,491.1 L463.5,494.1"/>
<path d="M579.9,441.3 L576.9,442.7 L574.0,444.2 L574.9,446.6 L575.0,449.1 L577.2,450.9 L579.9,452.0 L581.6,453.9 L583.5,455.7 L584.8,457.9 L587.4,459.4 L589.0,462.1 L591.6,463.8 L592.5,466.6 L594.0,469.1 L595.5,471.6 L595.2,474.2 L594.8,476.8 L594.5,479.4 L595.9,481.9 L595.8,484.9 L597.5,487.2 L598.9,489.0 L600.0,491.1"/>
<path d="M579.9,441.3 L580.2,444.2 L582.9,446.3 L585.7,448.1 L588.4,448.3 L591.0,447.9 L593.5,447.1 L596.8,448.1 L600.0,449.1"/>
<path d="M580.0,442.2 L581.7,444.0 L582.9,446.2 L585.4,447.2 L587.8,448.1 L590.5,447.9 L593.0,449.3 L595.6,449.1 L597.8,451.2 L599.1,454.0 L601.5,455.9 L604.1,455.3 L606.7,455.1 L609.3,454.9 L611.9,454.3 L614.5,454.2 L617.1,454.0 L619.8,455.0 L622.0,456.9 L624.2,455.2 L626.9,454.9 L628.7,456.8 L631.0,458.0 L632.8,459.8 L635.0,461.5 L636.7,463.8 L638.9,465.5 L640.6,467.7 L643.0,467.1 L645.5,466.7 L646.4,464.2 L647.5,461.8 L647.3,459.2 L647.0,456.6 L646.5,454.0 L648.3,452.4 L650.4,451.0 L652.9,450.6 L655.1,449.6 L657.2,448.1 L659.4,446.5 L662.1,446.2 L664.5,447.6 L667.1,448.7 L669.9,449.1 L672.7,448.5 L675.0,446.6 L677.8,446.2 L680.5,446.0 L683.0,445.1 L685.6,444.2 L687.9,442.5 L690.5,441.6 L693.4,441.3 L695.9,439.2 L697.3,436.4 L700.0,435.6 L702.4,434.1 L705.1,433.4 L707.5,431.9 L710.1,431.0 L712.9,430.5 L714.6,428.3 L716.9,426.6 L719.0,425.6 L720.6,423.8 L722.7,422.7 L723.7,420.0 L725.6,417.8 L725.6,415.1 L724.8,412.5 L723.7,410.0 L721.6,408.6 L720.7,406.1 L718.7,404.7 L716.9,403.1 L715.6,401.1 L713.9,399.5 L712.6,397.5 L710.9,395.8 L709.0,394.4 L707.9,392.2 L705.6,391.1 L704.5,388.9 L702.8,387.3 L701.2,385.6 L699.5,383.8 L697.3,382.6 L699.2,380.1 L701.2,377.7 L703.5,376.9 L705.2,375.2 L707.1,373.8 L706.2,370.9 L706.1,368.0 L707.1,366.0"/>
<path d="M723.7,410.0 L726.6,409.6 L729.6,409.4 L732.5,410.0 L735.1,409.3 L737.5,408.0 L740.3,408.0 L742.3,409.3 L744.5,410.2 L746.2,411.9 L746.4,414.6 L746.7,417.3 L746.9,420.0 L747.2,422.7 L745.7,425.2 L745.9,428.3 L743.8,430.6 L743.2,433.4 L745.5,434.1 L747.8,434.8 L750.1,435.4 L752.2,436.9 L754.4,438.4 L756.9,439.3 L757.8,441.9 L758.4,444.5 L758.9,447.1 L760.0,449.8 L762.7,451.3 L763.8,454.0 L762.6,456.5 L761.6,459.1 L760.8,461.8 L759.7,464.2 L757.3,465.6 L755.5,467.5 L754.0,469.6 L753.1,472.0 L753.8,474.5 L752.5,476.9 L753.0,479.4 L752.0,482.0 L751.1,484.6 L750.1,487.2 L749.2,489.4 L750.1,491.9 L749.1,494.1"/>
<path d="M580.0,452.0 L581.7,454.2 L583.8,456.1 L585.9,457.9 L588.0,459.7 L589.4,462.2 L591.7,463.8 L593.2,466.3 L594.4,468.9 L595.6,471.6 L596.6,473.9 L597.2,476.3 L598.6,478.4 L597.5,481.1 L595.6,483.3 L597.0,485.9 L598.4,488.5 L599.5,491.1 L600.5,494.1"/>
<path d="M483.7,474.0 L482.2,476.4 L480.8,478.9 L478.5,480.2 L477.1,482.5 L474.6,483.6 L472.9,485.7 L471.1,487.8 L469.0,489.6 L467.1,491.6 L465.3,493.3 L463.2,494.5 L466.1,495.5 L469.0,496.5 L471.0,499.0 L473.9,500.4 L475.4,502.5 L476.8,504.6 L478.8,506.3 L480.7,507.8 L482.4,509.5 L484.1,511.2 L485.6,513.1 L486.2,515.7 L486.8,518.4 L487.6,520.9 L488.2,523.4 L490.2,525.2 L490.5,527.8 L491.2,530.1 L492.0,532.4 L493.4,534.4 L494.4,536.6 L495.8,538.8 L496.2,541.4 L497.4,543.7 L497.4,546.3 L498.8,549.1 L499.3,552.2 L500.5,554.6 L502.5,556.2 L504.2,558.1 L506.0,559.7 L507.9,561.4 L509.7,563.0 L512.0,563.9 L513.9,565.5 L515.8,567.0 L517.8,568.5 L519.9,569.8 L522.8,570.1 L525.7,569.8 L528.2,569.0 L530.6,567.8 L533.2,566.6 L535.5,564.9 L537.6,563.5 L540.0,563.0"/>
<path d="M594.3,474.0 L594.5,477.0 L595.3,479.9 L595.8,482.8 L596.2,485.7 L597.2,487.9 L599.4,489.3 L600.2,491.6 L601.6,494.0 L602.8,496.6 L603.1,499.4 L602.0,501.6 L601.2,503.8 L601.1,506.3 L603.5,507.9 L606.0,509.2 L608.5,509.0 L610.9,509.7 L613.4,509.6 L615.8,509.2 L618.2,509.5 L620.7,509.3 L623.2,509.6 L625.6,510.2 L625.7,513.6 L625.6,517.0 L622.6,519.9 L620.5,521.5 L618.1,522.6 L615.8,523.9 L613.1,524.3 L610.4,524.5 L608.0,525.8 L605.3,527.4 L602.1,527.8 L601.4,530.0 L601.5,532.5 L600.2,534.6 L599.7,537.3 L598.2,539.5 L595.5,541.1 L593.3,543.4 L591.3,545.3 L589.4,547.3 L588.4,543.4 L584.5,545.4 L582.1,546.9 L580.6,549.3 L578.7,550.8 L576.7,552.2 L572.8,552.2 L568.9,554.2 L565.0,556.1 L562.0,558.1 L560.1,562.0 L556.2,563.9 L554.7,566.4 L552.3,567.8 L550.3,571.8 L547.4,573.7 L545.4,569.8 L545.7,567.3 L546.4,564.9 L544.4,562.0 L542.0,561.8 L539.5,562.0 L536.3,562.9 L533.7,564.9 L531.3,565.6 L529.8,567.5 L527.8,568.8 L525.2,569.3 L522.7,570.1 L520.0,569.8"/>
<path d="M754.8,474.0 L753.6,476.5 L753.3,479.4 L751.9,481.8 L751.7,484.4 L751.1,486.9 L750.4,489.4 L749.0,491.6 L748.7,494.0 L749.5,496.5 L748.2,498.9 L749.0,501.4 L750.2,503.8 L749.7,506.7 L750.9,509.2 L753.0,510.8 L754.7,512.6 L755.8,515.1 L755.7,517.5 L756.7,519.9 L756.2,522.4 L756.8,524.8 L758.2,527.3 L759.4,529.8 L759.7,532.6 L761.8,534.6 L764.1,536.2 L766.5,537.5 L767.9,539.6 L769.7,541.2 L772.1,542.2 L773.4,544.4 L775.2,545.8 L777.1,547.1 L779.3,548.0 L781.2,549.3 L783.4,550.9 L786.1,551.2 L789.0,554.2 L792.9,552.2 L796.9,551.2 L800.8,551.2"/>
<path d="M269.7,258.0 L268.1,260.7 L266.0,263.0 L264.1,264.7 L263.4,267.2 L266.8,266.7 L270.0,265.5 L272.8,263.7 L276.0,263.3 L278.1,264.7 L279.0,267.0 L281.4,267.6 L283.9,267.8"/>
</g>
<rect x="312.8" y="112.5" width="8.5" height="11.5" fill="#fff"/><text x="317.0" y="122.2" font-size="10.8" text-anchor="middle" fill="#505050" textLength="6.4" lengthAdjust="spacingAndGlyphs">0</text>
<rect x="467.2" y="168.8" width="16.5" height="11.5" fill="#fff"/><text x="475.5" y="178.4" font-size="10.8" text-anchor="middle" fill="#505050" textLength="14.6" lengthAdjust="spacingAndGlyphs">10</text>
<rect x="630.0" y="142.8" width="8.5" height="11.5" fill="#fff"/><text x="634.2" y="152.4" font-size="10.8" text-anchor="middle" fill="#505050" textLength="6.4" lengthAdjust="spacingAndGlyphs">5</text>
<rect x="471.2" y="217.0" width="8.5" height="11.5" fill="#fff"/><text x="475.5" y="226.7" font-size="10.8" text-anchor="middle" fill="#505050" textLength="6.4" lengthAdjust="spacingAndGlyphs">5</text>
<rect x="290.2" y="264.8" width="8.5" height="11.5" fill="#fff"/><text x="294.5" y="274.4" font-size="10.8" text-anchor="middle" fill="#505050" textLength="6.4" lengthAdjust="spacingAndGlyphs">0</text>
<rect x="448.2" y="321.8" width="8.5" height="11.5" fill="#fff"/><text x="452.5" y="331.4" font-size="10.8" text-anchor="middle" fill="#505050" textLength="6.4" lengthAdjust="spacingAndGlyphs">0</text>
<rect x="716.2" y="163.8" width="16.5" height="11.5" fill="#fff"/><text x="724.5" y="173.4" font-size="10.8" text-anchor="middle" fill="#505050" textLength="14.6" lengthAdjust="spacingAndGlyphs">10</text>
<rect x="716.2" y="185.2" width="16.5" height="11.5" fill="#fff"/><text x="724.5" y="194.9" font-size="10.8" text-anchor="middle" fill="#505050" textLength="14.6" lengthAdjust="spacingAndGlyphs">15</text>
<rect x="716.2" y="206.2" width="16.5" height="11.5" fill="#fff"/><text x="724.5" y="215.9" font-size="10.8" text-anchor="middle" fill="#505050" textLength="14.6" lengthAdjust="spacingAndGlyphs">20</text>
<rect x="312.8" y="372.0" width="8.5" height="11.5" fill="#fff"/><text x="317.0" y="381.6" font-size="10.8" text-anchor="middle" fill="#505050" textLength="6.4" lengthAdjust="spacingAndGlyphs">5</text>
<rect x="308.8" y="432.0" width="16.5" height="11.5" fill="#fff"/><text x="317.0" y="441.6" font-size="10.8" text-anchor="middle" fill="#505050" textLength="14.6" lengthAdjust="spacingAndGlyphs">10</text>
<rect x="286.8" y="467.5" width="16.5" height="11.5" fill="#fff"/><text x="295.0" y="477.1" font-size="10.8" text-anchor="middle" fill="#505050" textLength="14.6" lengthAdjust="spacingAndGlyphs">15</text>
<rect x="196.2" y="501.5" width="16.5" height="11.5" fill="#fff"/><text x="204.5" y="511.1" font-size="10.8" text-anchor="middle" fill="#505050" textLength="14.6" lengthAdjust="spacingAndGlyphs">20</text>
<rect x="444.8" y="458.8" width="16.5" height="11.5" fill="#fff"/><text x="453.0" y="468.4" font-size="10.8" text-anchor="middle" fill="#505050" textLength="14.6" lengthAdjust="spacingAndGlyphs">20</text>
<rect x="376.8" y="550.8" width="16.5" height="11.5" fill="#fff"/><text x="385.0" y="560.4" font-size="10.8" text-anchor="middle" fill="#505050" textLength="14.6" lengthAdjust="spacingAndGlyphs">20</text>
<rect x="584.2" y="452.8" width="8.5" height="11.5" fill="#fff"/><text x="588.5" y="462.4" font-size="10.8" text-anchor="middle" fill="#505050" textLength="6.4" lengthAdjust="spacingAndGlyphs">5</text>
<rect x="648.5" y="435.2" width="16.5" height="11.5" fill="#fff"/><text x="656.8" y="444.9" font-size="10.8" text-anchor="middle" fill="#505050" textLength="14.6" lengthAdjust="spacingAndGlyphs">10</text>
<rect x="765.2" y="449.0" width="8.5" height="11.5" fill="#fff"/><text x="769.5" y="458.6" font-size="10.8" text-anchor="middle" fill="#505050" textLength="6.4" lengthAdjust="spacingAndGlyphs">5</text>
<rect x="852" y="301.3" width="5" height="11.5" fill="#fff"/><path d="M854.2,304.6 l1.5,-0.9 v6.6" stroke="#555" stroke-width="0.9" fill="none"/>
</g>
<rect x="168.2" y="57.5" width="687.6" height="539.5" fill="none" stroke="#6e6e6e" stroke-width="1.3"/>
<g stroke="#6e6e6e" stroke-width="1.1">
<path d="M164.0,597.0 H168.2"/><path d="M164.0,561.0 H168.2"/><path d="M164.0,525.1 H168.2"/><path d="M164.0,489.1 H168.2"/><path d="M164.0,453.1 H168.2"/><path d="M164.0,417.2 H168.2"/><path d="M164.0,381.2 H168.2"/><path d="M164.0,345.2 H168.2"/><path d="M164.0,309.3 H168.2"/><path d="M164.0,273.3 H168.2"/><path d="M164.0,237.3 H168.2"/><path d="M164.0,201.4 H168.2"/><path d="M164.0,165.4 H168.2"/><path d="M164.0,129.4 H168.2"/><path d="M164.0,93.5 H168.2"/><path d="M164.0,57.5 H168.2"/><path d="M168.2,597.0 V601.0"/><path d="M240.6,597.0 V601.0"/><path d="M313.0,597.0 V601.0"/><path d="M385.3,597.0 V601.0"/><path d="M457.7,597.0 V601.0"/><path d="M530.1,597.0 V601.0"/><path d="M602.5,597.0 V601.0"/><path d="M674.9,597.0 V601.0"/><path d="M747.2,597.0 V601.0"/><path d="M819.6,597.0 V601.0"/></g>
<g fill="#505050" font-size="11.2">
<text x="159.0" y="601.4" text-anchor="end" textLength="16.4" lengthAdjust="spacingAndGlyphs">EQ</text>
<text x="159.0" y="565.4" text-anchor="end" textLength="15.6" lengthAdjust="spacingAndGlyphs">1N</text>
<text x="159.0" y="529.5" text-anchor="end" textLength="15.6" lengthAdjust="spacingAndGlyphs">2N</text>
<text x="159.0" y="493.5" text-anchor="end" textLength="15.6" lengthAdjust="spacingAndGlyphs">3N</text>
<text x="159.0" y="457.5" text-anchor="end" textLength="15.6" lengthAdjust="spacingAndGlyphs">4N</text>
<text x="159.0" y="421.6" text-anchor="end" textLength="15.6" lengthAdjust="spacingAndGlyphs">5N</text>
<text x="159.0" y="385.6" text-anchor="end" textLength="15.6" lengthAdjust="spacingAndGlyphs">6N</text>
<text x="159.0" y="349.6" text-anchor="end" textLength="15.6" lengthAdjust="spacingAndGlyphs">7N</text>
<text x="159.0" y="313.7" text-anchor="end" textLength="15.6" lengthAdjust="spacingAndGlyphs">8N</text>
<text x="159.0" y="277.7" text-anchor="end" textLength="15.6" lengthAdjust="spacingAndGlyphs">9N</text>
<text x="159.0" y="241.7" text-anchor="end" textLength="23.4" lengthAdjust="spacingAndGlyphs">10N</text>
<text x="159.0" y="205.8" text-anchor="end" textLength="23.4" lengthAdjust="spacingAndGlyphs">11N</text>
<text x="159.0" y="169.8" text-anchor="end" textLength="23.4" lengthAdjust="spacingAndGlyphs">12N</text>
<text x="159.0" y="133.8" text-anchor="end" textLength="23.4" lengthAdjust="spacingAndGlyphs">13N</text>
<text x="159.0" y="97.9" text-anchor="end" textLength="23.4" lengthAdjust="spacingAndGlyphs">14N</text>
<text x="159.0" y="61.9" text-anchor="end" textLength="23.4" lengthAdjust="spacingAndGlyphs">15N</text>
<text x="168.2" y="611.6" text-anchor="middle" textLength="24.5" lengthAdjust="spacingAndGlyphs">76W</text>
<text x="240.6" y="611.6" text-anchor="middle" textLength="24.5" lengthAdjust="spacingAndGlyphs">74W</text>
<text x="313.0" y="611.6" text-anchor="middle" textLength="24.5" lengthAdjust="spacingAndGlyphs">72W</text>
<text x="385.3" y="611.6" text-anchor="middle" textLength="24.5" lengthAdjust="spacingAndGlyphs">70W</text>
<text x="457.7" y="611.6" text-anchor="middle" textLength="24.5" lengthAdjust="spacingAndGlyphs">68W</text>
<text x="530.1" y="611.6" text-anchor="middle" textLength="24.5" lengthAdjust="spacingAndGlyphs">66W</text>
<text x="602.5" y="611.6" text-anchor="middle" textLength="24.5" lengthAdjust="spacingAndGlyphs">64W</text>
<text x="674.9" y="611.6" text-anchor="middle" textLength="24.5" lengthAdjust="spacingAndGlyphs">62W</text>
<text x="747.2" y="611.6" text-anchor="middle" textLength="24.5" lengthAdjust="spacingAndGlyphs">60W</text>
<text x="819.6" y="611.6" text-anchor="middle" textLength="24.5" lengthAdjust="spacingAndGlyphs">58W</text>
</g>
<g stroke="#3c3c3c" stroke-width="0.8">
<path d="M930.2,103.1 L940.1,64.8 L950.0,103.1Z" fill="#0000fa"/>
<rect x="930.2" y="103.1" width="19.8" height="37.44" fill="#0064ff"/>
<rect x="930.2" y="140.5" width="19.8" height="37.44" fill="#0078ff"/>
<rect x="930.2" y="178.0" width="19.8" height="37.44" fill="#008cff"/>
<rect x="930.2" y="215.4" width="19.8" height="37.44" fill="#00a0ff"/>
<rect x="930.2" y="252.9" width="19.8" height="37.44" fill="#1eb4ff"/>
<rect x="930.2" y="290.3" width="19.8" height="37.44" fill="#50c8ff"/>
<rect x="930.2" y="327.7" width="19.8" height="37.44" fill="#ffffff"/>
<rect x="930.2" y="365.2" width="19.8" height="37.44" fill="#ffff96"/>
<rect x="930.2" y="402.6" width="19.8" height="37.44" fill="#ffc850"/>
<rect x="930.2" y="440.1" width="19.8" height="37.44" fill="#ffb41e"/>
<rect x="930.2" y="477.5" width="19.8" height="37.44" fill="#ffa000"/>
<rect x="930.2" y="514.9" width="19.8" height="37.44" fill="#ff8c00"/>
<path d="M930.2,552.4 L940.1,589.8 L950.0,552.4Z" fill="#ff7800"/>
</g>
<g fill="#505050" font-size="14">
<text x="955.6" y="108.1" textLength="31.1" lengthAdjust="spacingAndGlyphs">100</text>
<text x="955.6" y="145.5" textLength="20.4" lengthAdjust="spacingAndGlyphs">80</text>
<text x="955.6" y="183.0" textLength="20.4" lengthAdjust="spacingAndGlyphs">60</text>
<text x="955.6" y="220.4" textLength="20.4" lengthAdjust="spacingAndGlyphs">40</text>
<text x="955.6" y="257.9" textLength="20.4" lengthAdjust="spacingAndGlyphs">20</text>
<text x="955.6" y="295.3" textLength="20.4" lengthAdjust="spacingAndGlyphs">10</text>
<text x="955.6" y="332.7" textLength="9.7" lengthAdjust="spacingAndGlyphs">0</text>
<path d="M955.9,365.2 h10" stroke="#505050" stroke-width="1.1"/><text x="970.2" y="370.2" textLength="20.4" lengthAdjust="spacingAndGlyphs">10</text>
<path d="M955.9,402.6 h10" stroke="#505050" stroke-width="1.1"/><text x="968.9" y="407.6" textLength="21.7" lengthAdjust="spacingAndGlyphs">20</text>
<path d="M955.9,440.1 h10" stroke="#505050" stroke-width="1.1"/><text x="968.9" y="445.1" textLength="21.7" lengthAdjust="spacingAndGlyphs">40</text>
<path d="M955.9,477.5 h10" stroke="#505050" stroke-width="1.1"/><text x="968.9" y="482.5" textLength="21.7" lengthAdjust="spacingAndGlyphs">60</text>
<path d="M955.9,514.9 h10" stroke="#505050" stroke-width="1.1"/><text x="968.9" y="519.9" textLength="21.7" lengthAdjust="spacingAndGlyphs">80</text>
<path d="M955.9,552.4 h10" stroke="#505050" stroke-width="1.1"/><text x="970.2" y="557.4" textLength="31.1" lengthAdjust="spacingAndGlyphs">100</text>
</g>
<text transform="translate(93.0,13.2) scale(1.3,1)" font-size="16.2" fill="#585858" textLength="75.0" lengthAdjust="spacing">Anomalia</text>
<text transform="translate(204.7,13.2) scale(1.3,1)" font-size="16.2" fill="#585858" textLength="18.9" lengthAdjust="spacing">de</text>
<text transform="translate(244.0,13.2) scale(1.3,1)" font-size="16.2" fill="#585858" textLength="105.7" lengthAdjust="spacing">Precipitacion</text>
<text transform="translate(394.8,13.2) scale(1.3,1)" font-size="16.2" fill="#585858" textLength="66.8" lengthAdjust="spacing">Semana</text>
<text transform="translate(495.0,13.2) scale(1.45,1)" font-size="16.2" fill="#585858" textLength="97.0" lengthAdjust="spacing">07/02/2022</text>
<text transform="translate(650.4,13.2) scale(1.3,1)" font-size="16.2" fill="#585858" textLength="13.5" lengthAdjust="spacing">al</text>
<text transform="translate(683.7,13.2) scale(1.45,1)" font-size="16.2" fill="#585858" textLength="95.4" lengthAdjust="spacing">13/02/2022</text>
<text transform="translate(836.8,13.2) scale(1.3,1)" font-size="16.2" fill="#585858" textLength="37.3" lengthAdjust="spacing">(mm</text>
<text transform="translate(901.5,13.2) scale(1.3,1)" font-size="16.2" fill="#585858" textLength="18.9" lengthAdjust="spacing">de</text>
<text transform="translate(940.5,13.2) scale(1.3,1)" font-size="16.2" fill="#585858" textLength="47.4" lengthAdjust="spacing">lluvia)</text>
<text transform="translate(279.4,35.0) scale(1.2,1)" font-size="10.6" fill="#f653ae" textLength="67.9" lengthAdjust="spacing">VENEZUELA</text>
<path d="M371.1,31.1 H379.3" stroke="#f653ae" stroke-width="1"/>
<text transform="translate(389.6,35.0) scale(1.2,1)" font-size="10.6" fill="#f653ae" textLength="22.1" lengthAdjust="spacing">UCV</text>
<path d="M426.3,31.1 H435.1" stroke="#f653ae" stroke-width="1"/>
<text transform="translate(446.2,35.0) scale(1.3,1)" font-size="10.6" fill="#f653ae" textLength="79.3" lengthAdjust="spacing">Departamento</text>
<text transform="translate(558.1,35.0) scale(1.3,1)" font-size="10.6" fill="#f653ae" textLength="12.2" lengthAdjust="spacing">de</text>
<text transform="translate(582.7,35.0) scale(1.3,1)" font-size="10.6" fill="#f653ae" textLength="52.5" lengthAdjust="spacing">Ingenieria</text>
<text transform="translate(660.7,35.0) scale(1.3,1)" font-size="10.6" fill="#f653ae" textLength="107.2" lengthAdjust="spacing">Hidrometeorologica</text>
<text transform="translate(270.4,50.1) scale(1.3,1)" font-size="10.6" fill="#f653ae" textLength="56.3" lengthAdjust="spacing">Ingenieros</text>
<text transform="translate(351.9,50.1) scale(1.3,1)" font-size="10.6" fill="#f653ae" textLength="28.8" lengthAdjust="spacing">Rafael</text>
<text transform="translate(405.2,50.1) scale(1.3,1)" font-size="10.6" fill="#f653ae" textLength="52.5" lengthAdjust="spacing">Mundaray</text>
<text x="483.5" y="50.1" font-size="10.6" fill="#f653ae">y</text>
<text transform="translate(498.2,50.1) scale(1.3,1)" font-size="10.6" fill="#f653ae" textLength="39.3" lengthAdjust="spacing">Alfredo</text>
<text transform="translate(556.7,50.1) scale(1.3,1)" font-size="10.6" fill="#f653ae" textLength="12.0" lengthAdjust="spacing">Gil</text>
<path d="M582,46.2 H591.5" stroke="#f653ae" stroke-width="1"/>
<text transform="translate(602.7,50.1) scale(1.3,1)" font-size="10.6" fill="#f653ae" textLength="31.3" lengthAdjust="spacing">Datos</text>
<text transform="translate(653.0,50.1) scale(1.3,1)" font-size="10.6" fill="#f653ae" textLength="36.8" lengthAdjust="spacing">Modelo</text>
<text transform="translate(711.2,50.1) scale(1.3,1)" font-size="10.6" fill="#f653ae" textLength="32.6" lengthAdjust="spacing">CFSv2</text>
<text transform="translate(763.2,50.1) scale(1.2,1)" font-size="10.6" fill="#f653ae" textLength="30.7" lengthAdjust="spacing">NOAA</text>
<path d="M615.6,32.2 l0.8,0 l0,2.6 l-1.2,1" stroke="#333" stroke-width="1" fill="none"/>
<text transform="translate(5.0,651.6) scale(1.08,1)" font-size="11.6" fill="#5a5a5a" textLength="75.0" lengthAdjust="spacing">GrADS/COLA</text>
</svg>
</body></html>
